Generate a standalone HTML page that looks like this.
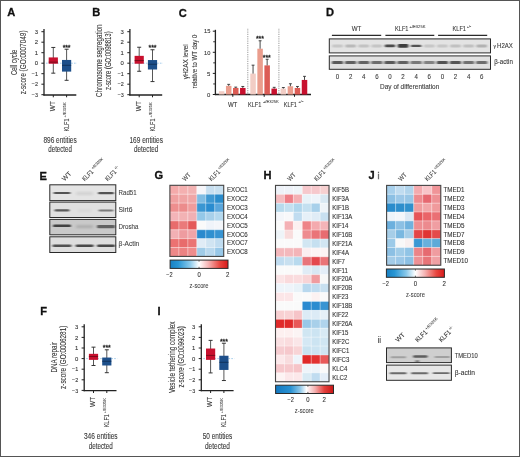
<!DOCTYPE html><html><head><meta charset="utf-8"><style>html,body{margin:0;padding:0;background:#fff;overflow:hidden;}svg{display:block;will-change:transform;}text{font-family:"Liberation Sans", sans-serif;}</style></head><body>
<svg width="520" height="457" viewBox="0 0 520 457">
<defs><linearGradient id="cb" x1="0" x2="1" y1="0" y2="0"><stop offset="0" stop-color="#1880c2"/><stop offset="0.14" stop-color="#2896d4"/><stop offset="0.34" stop-color="#88c8ea"/><stop offset="0.5" stop-color="#ffffff"/><stop offset="0.66" stop-color="#f5b4b4"/><stop offset="0.86" stop-color="#e8463f"/><stop offset="1" stop-color="#d81a1a"/></linearGradient><linearGradient id="cbh" x1="0" x2="1" y1="0" y2="0"><stop offset="0" stop-color="#1478c0"/><stop offset="0.26" stop-color="#2a92d2"/><stop offset="0.42" stop-color="#8cc6e8"/><stop offset="0.535" stop-color="#ffffff"/><stop offset="0.68" stop-color="#f4b0b0"/><stop offset="0.84" stop-color="#e4403c"/><stop offset="1" stop-color="#c81616"/></linearGradient><filter id="b1" x="-50%" y="-150%" width="200%" height="400%"><feGaussianBlur stdDeviation="1.0 0.6"/></filter><filter id="b2" x="-50%" y="-150%" width="200%" height="400%"><feGaussianBlur stdDeviation="1.4 0.9"/></filter></defs>
<rect x="0" y="0" width="520" height="457" fill="#fff"/>
<text x="7.20" y="16.40" font-size="11.1" font-weight="bold" fill="#111" stroke="#111" stroke-width="0.3">A</text>
<text x="92.30" y="16.20" font-size="11.1" font-weight="bold" fill="#111" stroke="#111" stroke-width="0.3">B</text>
<text x="178.80" y="16.90" font-size="11.1" font-weight="bold" fill="#111" stroke="#111" stroke-width="0.3">C</text>
<text x="326.00" y="16.40" font-size="11.1" font-weight="bold" fill="#111" stroke="#111" stroke-width="0.3">D</text>
<text x="39.60" y="179.70" font-size="11.1" font-weight="bold" fill="#111" stroke="#111" stroke-width="0.3">E</text>
<text x="154.50" y="179.00" font-size="11.1" font-weight="bold" fill="#111" stroke="#111" stroke-width="0.3">G</text>
<text x="263.60" y="179.00" font-size="11.1" font-weight="bold" fill="#111" stroke="#111" stroke-width="0.3">H</text>
<text x="368.50" y="179.00" font-size="11.1" font-weight="bold" fill="#111" stroke="#111" stroke-width="0.3">J</text>
<text x="377.60" y="179.00" font-size="9.0" text-anchor="start" fill="#666" stroke="#666" stroke-width="0.45" >i</text>
<text x="40.20" y="315.40" font-size="11.1" font-weight="bold" fill="#111" stroke="#111" stroke-width="0.3">F</text>
<text x="157.60" y="315.40" font-size="11.1" font-weight="bold" fill="#111" stroke="#111" stroke-width="0.3">I</text>
<text x="377.40" y="342.50" font-size="8.2" text-anchor="start" fill="#444" stroke="#444" stroke-width="0.1" >ii</text>
<line x1="44.00" y1="29.08" x2="44.00" y2="95.60" stroke="#222" stroke-width="1.3" />
<line x1="43.40" y1="95.00" x2="76.30" y2="95.00" stroke="#222" stroke-width="1.3" />
<line x1="41.40" y1="94.70" x2="44.00" y2="94.70" stroke="#222" stroke-width="1.0" />
<text x="38.00" y="96.90" font-size="6.2" text-anchor="end" fill="#333" stroke="#333" stroke-width="0.1" textLength="6.2" lengthAdjust="spacingAndGlyphs" >−3</text>
<line x1="41.40" y1="84.20" x2="44.00" y2="84.20" stroke="#222" stroke-width="1.0" />
<text x="38.00" y="86.40" font-size="6.2" text-anchor="end" fill="#333" stroke="#333" stroke-width="0.1" textLength="6.2" lengthAdjust="spacingAndGlyphs" >−2</text>
<line x1="41.40" y1="73.70" x2="44.00" y2="73.70" stroke="#222" stroke-width="1.0" />
<text x="38.00" y="75.90" font-size="6.2" text-anchor="end" fill="#333" stroke="#333" stroke-width="0.1" textLength="6.2" lengthAdjust="spacingAndGlyphs" >−1</text>
<line x1="41.40" y1="63.20" x2="44.00" y2="63.20" stroke="#222" stroke-width="1.0" />
<text x="38.00" y="65.40" font-size="6.2" text-anchor="end" fill="#333" stroke="#333" stroke-width="0.1" textLength="3.3" lengthAdjust="spacingAndGlyphs" >0</text>
<line x1="41.40" y1="52.70" x2="44.00" y2="52.70" stroke="#222" stroke-width="1.0" />
<text x="38.00" y="54.90" font-size="6.2" text-anchor="end" fill="#333" stroke="#333" stroke-width="0.1" textLength="3.3" lengthAdjust="spacingAndGlyphs" >1</text>
<line x1="41.40" y1="42.20" x2="44.00" y2="42.20" stroke="#222" stroke-width="1.0" />
<text x="38.00" y="44.40" font-size="6.2" text-anchor="end" fill="#333" stroke="#333" stroke-width="0.1" textLength="3.3" lengthAdjust="spacingAndGlyphs" >2</text>
<line x1="41.40" y1="31.70" x2="44.00" y2="31.70" stroke="#222" stroke-width="1.0" />
<text x="38.00" y="33.90" font-size="6.2" text-anchor="end" fill="#333" stroke="#333" stroke-width="0.1" textLength="3.3" lengthAdjust="spacingAndGlyphs" >3</text>
<line x1="46.00" y1="63.20" x2="77.00" y2="63.20" stroke="#8fc0e6" stroke-width="0.8" stroke-dasharray="1.6 1.2"/>
<line x1="53.30" y1="47.45" x2="53.30" y2="73.17" stroke="#444" stroke-width="0.9" />
<line x1="51.30" y1="47.45" x2="55.30" y2="47.45" stroke="#333" stroke-width="1.0" />
<line x1="51.30" y1="73.17" x2="55.30" y2="73.17" stroke="#333" stroke-width="1.0" />
<rect x="48.70" y="57.43" width="9.20" height="6.30" fill="#c8102e" stroke="none" stroke-width="0" />
<line x1="48.70" y1="62.15" x2="57.90" y2="62.15" stroke="#5a0814" stroke-width="0.7" />
<line x1="66.60" y1="49.23" x2="66.60" y2="80.31" stroke="#444" stroke-width="0.9" />
<line x1="64.60" y1="49.23" x2="68.60" y2="49.23" stroke="#333" stroke-width="1.0" />
<line x1="64.60" y1="80.31" x2="68.60" y2="80.31" stroke="#333" stroke-width="1.0" />
<rect x="62.00" y="59.95" width="9.20" height="11.66" fill="#1d4f8a" stroke="none" stroke-width="0" />
<line x1="62.00" y1="65.30" x2="71.20" y2="65.30" stroke="#0b2747" stroke-width="0.7" />
<text x="64.00" y="49.84" font-size="7.0" text-anchor="middle" fill="#222" stroke="#222" stroke-width="0.3" >*</text>
<text x="66.60" y="49.84" font-size="7.0" text-anchor="middle" fill="#222" stroke="#222" stroke-width="0.3" >*</text>
<text x="69.20" y="49.84" font-size="7.0" text-anchor="middle" fill="#222" stroke="#222" stroke-width="0.3" >*</text>
<line x1="53.30" y1="95.00" x2="53.30" y2="97.30" stroke="#222" stroke-width="1.0" />
<line x1="66.60" y1="95.00" x2="66.60" y2="97.30" stroke="#222" stroke-width="1.0" />
<text transform="translate(55.10,111.20) rotate(-90)" x="0" y="0" font-size="6.6" text-anchor="start" fill="#383838" stroke="#383838" stroke-width="0.1" textLength="10.1" lengthAdjust="spacingAndGlyphs" >WT</text>
<g transform="translate(68.80,131.60) rotate(-90)"><text x="0" y="0" font-size="6.6" fill="#383838" stroke="#383838" stroke-width="0.1" textLength="13.1" lengthAdjust="spacingAndGlyphs">KLF1</text><text x="14.10" y="-3.10" font-size="3.7" fill="#383838" stroke="#383838" stroke-width="0.06" textLength="15.0" lengthAdjust="spacingAndGlyphs">+/E325K</text></g>
<text transform="translate(16.60,62.30) rotate(-90)" x="0" y="0" font-size="8.2" text-anchor="middle" fill="#383838" stroke="#383838" stroke-width="0.1" textLength="25.4" lengthAdjust="spacingAndGlyphs" >Cell cycle</text>
<text transform="translate(25.80,62.40) rotate(-90)" x="0" y="0" font-size="8.2" text-anchor="middle" fill="#383838" stroke="#383838" stroke-width="0.1" textLength="63.9" lengthAdjust="spacingAndGlyphs" >z-score (GO:0007049)</text>
<text x="60.10" y="142.50" font-size="8.6" text-anchor="middle" fill="#383838" stroke="#383838" stroke-width="0.1" textLength="33.3" lengthAdjust="spacingAndGlyphs" >896 entities</text>
<text x="60.10" y="152.00" font-size="8.6" text-anchor="middle" fill="#383838" stroke="#383838" stroke-width="0.1" textLength="23.6" lengthAdjust="spacingAndGlyphs" >detected</text>
<line x1="129.90" y1="29.08" x2="129.90" y2="95.60" stroke="#222" stroke-width="1.3" />
<line x1="129.30" y1="95.00" x2="162.20" y2="95.00" stroke="#222" stroke-width="1.3" />
<line x1="127.30" y1="94.70" x2="129.90" y2="94.70" stroke="#222" stroke-width="1.0" />
<text x="123.90" y="96.90" font-size="6.2" text-anchor="end" fill="#333" stroke="#333" stroke-width="0.1" textLength="6.2" lengthAdjust="spacingAndGlyphs" >−3</text>
<line x1="127.30" y1="84.20" x2="129.90" y2="84.20" stroke="#222" stroke-width="1.0" />
<text x="123.90" y="86.40" font-size="6.2" text-anchor="end" fill="#333" stroke="#333" stroke-width="0.1" textLength="6.2" lengthAdjust="spacingAndGlyphs" >−2</text>
<line x1="127.30" y1="73.70" x2="129.90" y2="73.70" stroke="#222" stroke-width="1.0" />
<text x="123.90" y="75.90" font-size="6.2" text-anchor="end" fill="#333" stroke="#333" stroke-width="0.1" textLength="6.2" lengthAdjust="spacingAndGlyphs" >−1</text>
<line x1="127.30" y1="63.20" x2="129.90" y2="63.20" stroke="#222" stroke-width="1.0" />
<text x="123.90" y="65.40" font-size="6.2" text-anchor="end" fill="#333" stroke="#333" stroke-width="0.1" textLength="3.3" lengthAdjust="spacingAndGlyphs" >0</text>
<line x1="127.30" y1="52.70" x2="129.90" y2="52.70" stroke="#222" stroke-width="1.0" />
<text x="123.90" y="54.90" font-size="6.2" text-anchor="end" fill="#333" stroke="#333" stroke-width="0.1" textLength="3.3" lengthAdjust="spacingAndGlyphs" >1</text>
<line x1="127.30" y1="42.20" x2="129.90" y2="42.20" stroke="#222" stroke-width="1.0" />
<text x="123.90" y="44.40" font-size="6.2" text-anchor="end" fill="#333" stroke="#333" stroke-width="0.1" textLength="3.3" lengthAdjust="spacingAndGlyphs" >2</text>
<line x1="127.30" y1="31.70" x2="129.90" y2="31.70" stroke="#222" stroke-width="1.0" />
<text x="123.90" y="33.90" font-size="6.2" text-anchor="end" fill="#333" stroke="#333" stroke-width="0.1" textLength="3.3" lengthAdjust="spacingAndGlyphs" >3</text>
<line x1="131.90" y1="63.20" x2="162.90" y2="63.20" stroke="#8fc0e6" stroke-width="0.8" stroke-dasharray="1.6 1.2"/>
<line x1="139.20" y1="47.24" x2="139.20" y2="71.28" stroke="#444" stroke-width="0.9" />
<line x1="137.20" y1="47.24" x2="141.20" y2="47.24" stroke="#333" stroke-width="1.0" />
<line x1="137.20" y1="71.28" x2="141.20" y2="71.28" stroke="#333" stroke-width="1.0" />
<rect x="134.60" y="55.85" width="9.20" height="7.88" fill="#c8102e" stroke="none" stroke-width="0" />
<line x1="134.60" y1="60.58" x2="143.80" y2="60.58" stroke="#5a0814" stroke-width="0.7" />
<line x1="152.50" y1="49.76" x2="152.50" y2="81.58" stroke="#444" stroke-width="0.9" />
<line x1="150.50" y1="49.76" x2="154.50" y2="49.76" stroke="#333" stroke-width="1.0" />
<line x1="150.50" y1="81.58" x2="154.50" y2="81.58" stroke="#333" stroke-width="1.0" />
<rect x="147.90" y="60.05" width="9.20" height="9.45" fill="#1d4f8a" stroke="none" stroke-width="0" />
<line x1="147.90" y1="64.25" x2="157.10" y2="64.25" stroke="#0b2747" stroke-width="0.7" />
<text x="149.90" y="50.36" font-size="7.0" text-anchor="middle" fill="#222" stroke="#222" stroke-width="0.3" >*</text>
<text x="152.50" y="50.36" font-size="7.0" text-anchor="middle" fill="#222" stroke="#222" stroke-width="0.3" >*</text>
<text x="155.10" y="50.36" font-size="7.0" text-anchor="middle" fill="#222" stroke="#222" stroke-width="0.3" >*</text>
<line x1="139.20" y1="95.00" x2="139.20" y2="97.30" stroke="#222" stroke-width="1.0" />
<line x1="152.50" y1="95.00" x2="152.50" y2="97.30" stroke="#222" stroke-width="1.0" />
<text transform="translate(141.00,111.20) rotate(-90)" x="0" y="0" font-size="6.6" text-anchor="start" fill="#383838" stroke="#383838" stroke-width="0.1" textLength="10.1" lengthAdjust="spacingAndGlyphs" >WT</text>
<g transform="translate(154.70,131.60) rotate(-90)"><text x="0" y="0" font-size="6.6" fill="#383838" stroke="#383838" stroke-width="0.1" textLength="13.1" lengthAdjust="spacingAndGlyphs">KLF1</text><text x="14.10" y="-3.10" font-size="3.7" fill="#383838" stroke="#383838" stroke-width="0.06" textLength="15.0" lengthAdjust="spacingAndGlyphs">+/E325K</text></g>
<text transform="translate(101.50,60.70) rotate(-90)" x="0" y="0" font-size="8.2" text-anchor="middle" fill="#383838" stroke="#383838" stroke-width="0.1" textLength="72.6" lengthAdjust="spacingAndGlyphs" >Chromosome segregation</text>
<text transform="translate(110.60,60.70) rotate(-90)" x="0" y="0" font-size="8.2" text-anchor="middle" fill="#383838" stroke="#383838" stroke-width="0.1" textLength="58.6" lengthAdjust="spacingAndGlyphs" >z-score (GO:0098813)</text>
<text x="146.20" y="142.50" font-size="8.6" text-anchor="middle" fill="#383838" stroke="#383838" stroke-width="0.1" textLength="33.5" lengthAdjust="spacingAndGlyphs" >169 entities</text>
<text x="146.20" y="152.00" font-size="8.6" text-anchor="middle" fill="#383838" stroke="#383838" stroke-width="0.1" textLength="24.3" lengthAdjust="spacingAndGlyphs" >detected</text>
<line x1="84.20" y1="324.15" x2="84.20" y2="391.30" stroke="#222" stroke-width="1.3" />
<line x1="83.60" y1="390.70" x2="116.50" y2="390.70" stroke="#222" stroke-width="1.3" />
<line x1="81.60" y1="390.40" x2="84.20" y2="390.40" stroke="#222" stroke-width="1.0" />
<text x="78.20" y="392.60" font-size="6.2" text-anchor="end" fill="#333" stroke="#333" stroke-width="0.1" textLength="6.2" lengthAdjust="spacingAndGlyphs" >−3</text>
<line x1="81.60" y1="379.80" x2="84.20" y2="379.80" stroke="#222" stroke-width="1.0" />
<text x="78.20" y="382.00" font-size="6.2" text-anchor="end" fill="#333" stroke="#333" stroke-width="0.1" textLength="6.2" lengthAdjust="spacingAndGlyphs" >−2</text>
<line x1="81.60" y1="369.20" x2="84.20" y2="369.20" stroke="#222" stroke-width="1.0" />
<text x="78.20" y="371.40" font-size="6.2" text-anchor="end" fill="#333" stroke="#333" stroke-width="0.1" textLength="6.2" lengthAdjust="spacingAndGlyphs" >−1</text>
<line x1="81.60" y1="358.60" x2="84.20" y2="358.60" stroke="#222" stroke-width="1.0" />
<text x="78.20" y="360.80" font-size="6.2" text-anchor="end" fill="#333" stroke="#333" stroke-width="0.1" textLength="3.3" lengthAdjust="spacingAndGlyphs" >0</text>
<line x1="81.60" y1="348.00" x2="84.20" y2="348.00" stroke="#222" stroke-width="1.0" />
<text x="78.20" y="350.20" font-size="6.2" text-anchor="end" fill="#333" stroke="#333" stroke-width="0.1" textLength="3.3" lengthAdjust="spacingAndGlyphs" >1</text>
<line x1="81.60" y1="337.40" x2="84.20" y2="337.40" stroke="#222" stroke-width="1.0" />
<text x="78.20" y="339.60" font-size="6.2" text-anchor="end" fill="#333" stroke="#333" stroke-width="0.1" textLength="3.3" lengthAdjust="spacingAndGlyphs" >2</text>
<line x1="81.60" y1="326.80" x2="84.20" y2="326.80" stroke="#222" stroke-width="1.0" />
<text x="78.20" y="329.00" font-size="6.2" text-anchor="end" fill="#333" stroke="#333" stroke-width="0.1" textLength="3.3" lengthAdjust="spacingAndGlyphs" >3</text>
<line x1="86.20" y1="358.60" x2="117.20" y2="358.60" stroke="#8fc0e6" stroke-width="0.8" stroke-dasharray="1.6 1.2"/>
<line x1="93.50" y1="347.15" x2="93.50" y2="365.49" stroke="#444" stroke-width="0.9" />
<line x1="91.50" y1="347.15" x2="95.50" y2="347.15" stroke="#333" stroke-width="1.0" />
<line x1="91.50" y1="365.49" x2="95.50" y2="365.49" stroke="#333" stroke-width="1.0" />
<rect x="88.90" y="353.83" width="9.20" height="6.04" fill="#c8102e" stroke="none" stroke-width="0" />
<line x1="88.90" y1="356.48" x2="98.10" y2="356.48" stroke="#5a0814" stroke-width="0.7" />
<line x1="106.80" y1="349.80" x2="106.80" y2="372.70" stroke="#444" stroke-width="0.9" />
<line x1="104.80" y1="349.80" x2="108.80" y2="349.80" stroke="#333" stroke-width="1.0" />
<line x1="104.80" y1="372.70" x2="108.80" y2="372.70" stroke="#333" stroke-width="1.0" />
<rect x="102.20" y="357.54" width="9.20" height="7.95" fill="#1d4f8a" stroke="none" stroke-width="0" />
<line x1="102.20" y1="361.25" x2="111.40" y2="361.25" stroke="#0b2747" stroke-width="0.7" />
<text x="104.20" y="350.40" font-size="7.0" text-anchor="middle" fill="#222" stroke="#222" stroke-width="0.3" >*</text>
<text x="106.80" y="350.40" font-size="7.0" text-anchor="middle" fill="#222" stroke="#222" stroke-width="0.3" >*</text>
<text x="109.40" y="350.40" font-size="7.0" text-anchor="middle" fill="#222" stroke="#222" stroke-width="0.3" >*</text>
<line x1="93.50" y1="390.70" x2="93.50" y2="393.00" stroke="#222" stroke-width="1.0" />
<line x1="106.80" y1="390.70" x2="106.80" y2="393.00" stroke="#222" stroke-width="1.0" />
<text transform="translate(95.30,406.90) rotate(-90)" x="0" y="0" font-size="6.6" text-anchor="start" fill="#383838" stroke="#383838" stroke-width="0.1" textLength="10.1" lengthAdjust="spacingAndGlyphs" >WT</text>
<g transform="translate(109.00,427.30) rotate(-90)"><text x="0" y="0" font-size="6.6" fill="#383838" stroke="#383838" stroke-width="0.1" textLength="13.1" lengthAdjust="spacingAndGlyphs">KLF1</text><text x="14.10" y="-3.10" font-size="3.7" fill="#383838" stroke="#383838" stroke-width="0.06" textLength="15.0" lengthAdjust="spacingAndGlyphs">+/E325K</text></g>
<text transform="translate(57.30,357.30) rotate(-90)" x="0" y="0" font-size="8.2" text-anchor="middle" fill="#383838" stroke="#383838" stroke-width="0.1" textLength="30.3" lengthAdjust="spacingAndGlyphs" >DNA repair</text>
<text transform="translate(66.30,357.30) rotate(-90)" x="0" y="0" font-size="8.2" text-anchor="middle" fill="#383838" stroke="#383838" stroke-width="0.1" textLength="63.2" lengthAdjust="spacingAndGlyphs" >z-score (GO:0006281)</text>
<text x="100.80" y="439.40" font-size="8.6" text-anchor="middle" fill="#383838" stroke="#383838" stroke-width="0.1" textLength="33.7" lengthAdjust="spacingAndGlyphs" >346 entities</text>
<text x="100.80" y="448.90" font-size="8.6" text-anchor="middle" fill="#383838" stroke="#383838" stroke-width="0.1" textLength="24.2" lengthAdjust="spacingAndGlyphs" >detected</text>
<line x1="201.30" y1="324.15" x2="201.30" y2="391.30" stroke="#222" stroke-width="1.3" />
<line x1="200.70" y1="390.70" x2="233.60" y2="390.70" stroke="#222" stroke-width="1.3" />
<line x1="198.70" y1="390.40" x2="201.30" y2="390.40" stroke="#222" stroke-width="1.0" />
<text x="195.30" y="392.60" font-size="6.2" text-anchor="end" fill="#333" stroke="#333" stroke-width="0.1" textLength="6.2" lengthAdjust="spacingAndGlyphs" >−3</text>
<line x1="198.70" y1="379.80" x2="201.30" y2="379.80" stroke="#222" stroke-width="1.0" />
<text x="195.30" y="382.00" font-size="6.2" text-anchor="end" fill="#333" stroke="#333" stroke-width="0.1" textLength="6.2" lengthAdjust="spacingAndGlyphs" >−2</text>
<line x1="198.70" y1="369.20" x2="201.30" y2="369.20" stroke="#222" stroke-width="1.0" />
<text x="195.30" y="371.40" font-size="6.2" text-anchor="end" fill="#333" stroke="#333" stroke-width="0.1" textLength="6.2" lengthAdjust="spacingAndGlyphs" >−1</text>
<line x1="198.70" y1="358.60" x2="201.30" y2="358.60" stroke="#222" stroke-width="1.0" />
<text x="195.30" y="360.80" font-size="6.2" text-anchor="end" fill="#333" stroke="#333" stroke-width="0.1" textLength="3.3" lengthAdjust="spacingAndGlyphs" >0</text>
<line x1="198.70" y1="348.00" x2="201.30" y2="348.00" stroke="#222" stroke-width="1.0" />
<text x="195.30" y="350.20" font-size="6.2" text-anchor="end" fill="#333" stroke="#333" stroke-width="0.1" textLength="3.3" lengthAdjust="spacingAndGlyphs" >1</text>
<line x1="198.70" y1="337.40" x2="201.30" y2="337.40" stroke="#222" stroke-width="1.0" />
<text x="195.30" y="339.60" font-size="6.2" text-anchor="end" fill="#333" stroke="#333" stroke-width="0.1" textLength="3.3" lengthAdjust="spacingAndGlyphs" >2</text>
<line x1="198.70" y1="326.80" x2="201.30" y2="326.80" stroke="#222" stroke-width="1.0" />
<text x="195.30" y="329.00" font-size="6.2" text-anchor="end" fill="#333" stroke="#333" stroke-width="0.1" textLength="3.3" lengthAdjust="spacingAndGlyphs" >3</text>
<line x1="203.30" y1="358.60" x2="234.30" y2="358.60" stroke="#8fc0e6" stroke-width="0.8" stroke-dasharray="1.6 1.2"/>
<line x1="210.60" y1="340.37" x2="210.60" y2="372.91" stroke="#444" stroke-width="0.9" />
<line x1="208.60" y1="340.37" x2="212.60" y2="340.37" stroke="#333" stroke-width="1.0" />
<line x1="208.60" y1="372.91" x2="212.60" y2="372.91" stroke="#333" stroke-width="1.0" />
<rect x="206.00" y="348.53" width="9.20" height="11.34" fill="#c8102e" stroke="none" stroke-width="0" />
<line x1="206.00" y1="355.42" x2="215.20" y2="355.42" stroke="#5a0814" stroke-width="0.7" />
<line x1="223.90" y1="343.23" x2="223.90" y2="380.54" stroke="#444" stroke-width="0.9" />
<line x1="221.90" y1="343.23" x2="225.90" y2="343.23" stroke="#333" stroke-width="1.0" />
<line x1="221.90" y1="380.54" x2="225.90" y2="380.54" stroke="#333" stroke-width="1.0" />
<rect x="219.30" y="355.74" width="9.20" height="14.20" fill="#1d4f8a" stroke="none" stroke-width="0" />
<line x1="219.30" y1="362.31" x2="228.50" y2="362.31" stroke="#0b2747" stroke-width="0.7" />
<text x="221.30" y="343.83" font-size="7.0" text-anchor="middle" fill="#222" stroke="#222" stroke-width="0.3" >*</text>
<text x="223.90" y="343.83" font-size="7.0" text-anchor="middle" fill="#222" stroke="#222" stroke-width="0.3" >*</text>
<text x="226.50" y="343.83" font-size="7.0" text-anchor="middle" fill="#222" stroke="#222" stroke-width="0.3" >*</text>
<line x1="210.60" y1="390.70" x2="210.60" y2="393.00" stroke="#222" stroke-width="1.0" />
<line x1="223.90" y1="390.70" x2="223.90" y2="393.00" stroke="#222" stroke-width="1.0" />
<text transform="translate(212.40,406.90) rotate(-90)" x="0" y="0" font-size="6.6" text-anchor="start" fill="#383838" stroke="#383838" stroke-width="0.1" textLength="10.1" lengthAdjust="spacingAndGlyphs" >WT</text>
<g transform="translate(226.10,427.30) rotate(-90)"><text x="0" y="0" font-size="6.6" fill="#383838" stroke="#383838" stroke-width="0.1" textLength="13.1" lengthAdjust="spacingAndGlyphs">KLF1</text><text x="14.10" y="-3.10" font-size="3.7" fill="#383838" stroke="#383838" stroke-width="0.06" textLength="15.0" lengthAdjust="spacingAndGlyphs">+/E325K</text></g>
<text transform="translate(175.40,357.30) rotate(-90)" x="0" y="0" font-size="8.2" text-anchor="middle" fill="#383838" stroke="#383838" stroke-width="0.1" textLength="71.6" lengthAdjust="spacingAndGlyphs" >Vesicle tethering complex</text>
<text transform="translate(183.90,356.90) rotate(-90)" x="0" y="0" font-size="8.2" text-anchor="middle" fill="#383838" stroke="#383838" stroke-width="0.1" textLength="61.3" lengthAdjust="spacingAndGlyphs" >z-score (GO:0099023)</text>
<text x="217.50" y="439.40" font-size="8.6" text-anchor="middle" fill="#383838" stroke="#383838" stroke-width="0.1" textLength="29.6" lengthAdjust="spacingAndGlyphs" >50 entities</text>
<text x="217.50" y="448.90" font-size="8.6" text-anchor="middle" fill="#383838" stroke="#383838" stroke-width="0.1" textLength="25.0" lengthAdjust="spacingAndGlyphs" >detected</text>
<line x1="215.40" y1="29.80" x2="215.40" y2="95.10" stroke="#222" stroke-width="1.3" />
<line x1="214.80" y1="94.50" x2="311.00" y2="94.50" stroke="#222" stroke-width="1.3" />
<line x1="213.20" y1="83.95" x2="215.40" y2="83.95" stroke="#222" stroke-width="0.9" />
<line x1="213.20" y1="62.85" x2="215.40" y2="62.85" stroke="#222" stroke-width="0.9" />
<line x1="213.20" y1="41.75" x2="215.40" y2="41.75" stroke="#222" stroke-width="0.9" />
<line x1="212.80" y1="94.50" x2="215.40" y2="94.50" stroke="#222" stroke-width="1.0" />
<text x="210.40" y="96.70" font-size="6.2" text-anchor="end" fill="#383838" stroke="#383838" stroke-width="0.1" textLength="3.3" lengthAdjust="spacingAndGlyphs" >0</text>
<line x1="212.80" y1="73.40" x2="215.40" y2="73.40" stroke="#222" stroke-width="1.0" />
<text x="210.40" y="75.60" font-size="6.2" text-anchor="end" fill="#383838" stroke="#383838" stroke-width="0.1" textLength="3.3" lengthAdjust="spacingAndGlyphs" >5</text>
<line x1="212.80" y1="52.30" x2="215.40" y2="52.30" stroke="#222" stroke-width="1.0" />
<text x="210.40" y="54.50" font-size="6.2" text-anchor="end" fill="#383838" stroke="#383838" stroke-width="0.1" textLength="6.4" lengthAdjust="spacingAndGlyphs" >10</text>
<line x1="212.80" y1="31.20" x2="215.40" y2="31.20" stroke="#222" stroke-width="1.0" />
<text x="210.40" y="33.40" font-size="6.2" text-anchor="end" fill="#383838" stroke="#383838" stroke-width="0.1" textLength="6.4" lengthAdjust="spacingAndGlyphs" >15</text>
<line x1="247.80" y1="28.80" x2="247.80" y2="94.50" stroke="#666" stroke-width="0.8" stroke-dasharray="0.8 1.0"/>
<line x1="278.90" y1="28.80" x2="278.90" y2="94.50" stroke="#666" stroke-width="0.8" stroke-dasharray="0.8 1.0"/>
<rect x="218.90" y="91.21" width="5.50" height="3.29" fill="#f2cdc5" stroke="none" stroke-width="0" />
<rect x="225.95" y="85.85" width="5.50" height="8.65" fill="#ea9d8d" stroke="none" stroke-width="0" />
<line x1="228.70" y1="85.85" x2="228.70" y2="84.37" stroke="#333" stroke-width="0.9" />
<line x1="227.25" y1="84.37" x2="230.15" y2="84.37" stroke="#333" stroke-width="0.9" />
<rect x="233.00" y="87.96" width="5.50" height="6.54" fill="#dc5c55" stroke="none" stroke-width="0" />
<line x1="235.75" y1="87.96" x2="235.75" y2="87.12" stroke="#333" stroke-width="0.9" />
<line x1="234.30" y1="87.12" x2="237.20" y2="87.12" stroke="#333" stroke-width="0.9" />
<rect x="240.05" y="87.96" width="5.50" height="6.54" fill="#c8102e" stroke="none" stroke-width="0" />
<line x1="242.80" y1="87.96" x2="242.80" y2="86.48" stroke="#333" stroke-width="0.9" />
<line x1="241.35" y1="86.48" x2="244.25" y2="86.48" stroke="#333" stroke-width="0.9" />
<line x1="232.80" y1="94.50" x2="232.80" y2="96.80" stroke="#222" stroke-width="1.0" />
<rect x="250.30" y="73.61" width="5.50" height="20.89" fill="#f2cdc5" stroke="none" stroke-width="0" />
<line x1="253.05" y1="73.61" x2="253.05" y2="65.17" stroke="#333" stroke-width="0.9" />
<line x1="251.60" y1="65.17" x2="254.50" y2="65.17" stroke="#333" stroke-width="0.9" />
<rect x="257.35" y="48.71" width="5.50" height="45.79" fill="#ea9d8d" stroke="none" stroke-width="0" />
<line x1="260.10" y1="48.71" x2="260.10" y2="40.78" stroke="#333" stroke-width="0.9" />
<line x1="258.65" y1="40.78" x2="261.55" y2="40.78" stroke="#333" stroke-width="0.9" />
<rect x="264.40" y="65.38" width="5.50" height="29.12" fill="#dc5c55" stroke="none" stroke-width="0" />
<line x1="267.15" y1="65.38" x2="267.15" y2="59.26" stroke="#333" stroke-width="0.9" />
<line x1="265.70" y1="59.26" x2="268.60" y2="59.26" stroke="#333" stroke-width="0.9" />
<rect x="271.45" y="88.59" width="5.50" height="5.91" fill="#c8102e" stroke="none" stroke-width="0" />
<line x1="274.20" y1="88.59" x2="274.20" y2="87.33" stroke="#333" stroke-width="0.9" />
<line x1="272.75" y1="87.33" x2="275.65" y2="87.33" stroke="#333" stroke-width="0.9" />
<line x1="264.20" y1="94.50" x2="264.20" y2="96.80" stroke="#222" stroke-width="1.0" />
<rect x="280.60" y="88.59" width="5.50" height="5.91" fill="#f2cdc5" stroke="none" stroke-width="0" />
<line x1="283.35" y1="88.59" x2="283.35" y2="87.54" stroke="#333" stroke-width="0.9" />
<line x1="281.90" y1="87.54" x2="284.80" y2="87.54" stroke="#333" stroke-width="0.9" />
<rect x="287.65" y="86.27" width="5.50" height="8.23" fill="#ea9d8d" stroke="none" stroke-width="0" />
<line x1="290.40" y1="86.27" x2="290.40" y2="83.74" stroke="#333" stroke-width="0.9" />
<line x1="288.95" y1="83.74" x2="291.85" y2="83.74" stroke="#333" stroke-width="0.9" />
<rect x="294.70" y="87.96" width="5.50" height="6.54" fill="#dc5c55" stroke="none" stroke-width="0" />
<line x1="297.45" y1="87.96" x2="297.45" y2="86.48" stroke="#333" stroke-width="0.9" />
<line x1="296.00" y1="86.48" x2="298.90" y2="86.48" stroke="#333" stroke-width="0.9" />
<rect x="301.75" y="79.94" width="5.50" height="14.56" fill="#c8102e" stroke="none" stroke-width="0" />
<line x1="304.50" y1="79.94" x2="304.50" y2="76.35" stroke="#333" stroke-width="0.9" />
<line x1="303.05" y1="76.35" x2="305.95" y2="76.35" stroke="#333" stroke-width="0.9" />
<line x1="294.50" y1="94.50" x2="294.50" y2="96.80" stroke="#222" stroke-width="1.0" />
<text x="257.30" y="40.60" font-size="7.0" text-anchor="middle" fill="#222" stroke="#222" stroke-width="0.3" >*</text>
<text x="259.90" y="40.60" font-size="7.0" text-anchor="middle" fill="#222" stroke="#222" stroke-width="0.3" >*</text>
<text x="262.50" y="40.60" font-size="7.0" text-anchor="middle" fill="#222" stroke="#222" stroke-width="0.3" >*</text>
<text x="264.20" y="59.50" font-size="7.0" text-anchor="middle" fill="#222" stroke="#222" stroke-width="0.3" >*</text>
<text x="266.80" y="59.50" font-size="7.0" text-anchor="middle" fill="#222" stroke="#222" stroke-width="0.3" >*</text>
<text x="269.40" y="59.50" font-size="7.0" text-anchor="middle" fill="#222" stroke="#222" stroke-width="0.3" >*</text>
<text x="232.60" y="106.70" font-size="6.9" text-anchor="middle" fill="#383838" stroke="#383838" stroke-width="0.1" textLength="9.4" lengthAdjust="spacingAndGlyphs" >WT</text>
<g transform="translate(247.90,106.70)"><text x="0" y="0" font-size="6.9" fill="#383838" stroke="#383838" stroke-width="0.1" textLength="13.4" lengthAdjust="spacingAndGlyphs">KLF1</text><text x="15.00" y="-4.20" font-size="3.8" fill="#383838" stroke="#383838" stroke-width="0.06" textLength="16.0" lengthAdjust="spacingAndGlyphs">+/E325K</text></g>
<g transform="translate(283.80,106.70)"><text x="0" y="0" font-size="6.9" fill="#383838" stroke="#383838" stroke-width="0.1" textLength="13.1" lengthAdjust="spacingAndGlyphs">KLF1</text><text x="14.70" y="-4.20" font-size="3.8" fill="#383838" stroke="#383838" stroke-width="0.06" textLength="4.9" lengthAdjust="spacingAndGlyphs">+/−</text></g>
<text transform="translate(188.10,61.80) rotate(-90)" x="0" y="0" font-size="6.5" text-anchor="middle" fill="#383838" stroke="#383838" stroke-width="0.1" textLength="34.8" lengthAdjust="spacingAndGlyphs" >γH2AX level</text>
<text transform="translate(197.40,61.50) rotate(-90)" x="0" y="0" font-size="6.5" text-anchor="middle" fill="#383838" stroke="#383838" stroke-width="0.1" textLength="53.8" lengthAdjust="spacingAndGlyphs" >relative to WT day 0</text>
<text x="356.50" y="31.40" font-size="6.8" text-anchor="middle" fill="#383838" stroke="#383838" stroke-width="0.1" textLength="9.6" lengthAdjust="spacingAndGlyphs" >WT</text>
<g transform="translate(395.00,31.20)"><text x="0" y="0" font-size="6.6" fill="#383838" stroke="#383838" stroke-width="0.1" textLength="13.5" lengthAdjust="spacingAndGlyphs">KLF1</text><text x="14.60" y="-3.60" font-size="3.8" fill="#383838" stroke="#383838" stroke-width="0.06" textLength="15.8" lengthAdjust="spacingAndGlyphs">+/E325K</text></g>
<g transform="translate(452.50,31.40)"><text x="0" y="0" font-size="6.6" fill="#383838" stroke="#383838" stroke-width="0.1" textLength="13.5" lengthAdjust="spacingAndGlyphs">KLF1</text><text x="14.60" y="-3.60" font-size="3.8" fill="#383838" stroke="#383838" stroke-width="0.06" textLength="4.2" lengthAdjust="spacingAndGlyphs">+/−</text></g>
<line x1="331.90" y1="35.30" x2="381.20" y2="35.30" stroke="#2a2a2a" stroke-width="1.2" />
<line x1="385.40" y1="35.30" x2="434.30" y2="35.30" stroke="#2a2a2a" stroke-width="1.2" />
<line x1="438.10" y1="35.30" x2="487.20" y2="35.30" stroke="#2a2a2a" stroke-width="1.2" />
<rect x="329.30" y="38.90" width="161.20" height="14.00" fill="#e3e3e3" stroke="#2a2a2a" stroke-width="1.0" />
<rect x="329.30" y="55.90" width="161.20" height="13.40" fill="#e0e0e0" stroke="#2a2a2a" stroke-width="1.0" />
<rect x="332.25" y="44.40" width="10.50" height="3.00" rx="1.20" fill="#1a1a1a" opacity="0.136" filter="url(#b1)"/>
<rect x="345.36" y="44.40" width="10.50" height="3.00" rx="1.20" fill="#1a1a1a" opacity="0.204" filter="url(#b1)"/>
<rect x="358.47" y="44.40" width="10.50" height="3.00" rx="1.20" fill="#1a1a1a" opacity="0.162" filter="url(#b1)"/>
<rect x="371.58" y="44.40" width="10.50" height="3.00" rx="1.20" fill="#1a1a1a" opacity="0.145" filter="url(#b1)"/>
<rect x="384.69" y="44.60" width="10.50" height="2.60" rx="1.20" fill="#1a1a1a" opacity="0.765" filter="url(#b1)"/>
<rect x="397.80" y="44.10" width="10.50" height="3.60" rx="1.20" fill="#1a1a1a" opacity="0.833" filter="url(#b1)"/>
<rect x="410.91" y="44.70" width="10.50" height="2.40" rx="1.20" fill="#1a1a1a" opacity="0.722" filter="url(#b1)"/>
<rect x="424.02" y="44.40" width="10.50" height="3.00" rx="1.20" fill="#1a1a1a" opacity="0.136" filter="url(#b1)"/>
<rect x="437.13" y="44.40" width="10.50" height="3.00" rx="1.20" fill="#1a1a1a" opacity="0.136" filter="url(#b1)"/>
<rect x="450.24" y="44.40" width="10.50" height="3.00" rx="1.20" fill="#1a1a1a" opacity="0.170" filter="url(#b1)"/>
<rect x="463.35" y="44.40" width="10.50" height="3.00" rx="1.20" fill="#1a1a1a" opacity="0.170" filter="url(#b1)"/>
<rect x="476.46" y="44.40" width="10.50" height="3.00" rx="1.20" fill="#1a1a1a" opacity="0.238" filter="url(#b1)"/>
<rect x="331.90" y="61.10" width="11.20" height="3.00" rx="1.20" fill="#1a1a1a" opacity="0.686" filter="url(#b1)"/>
<rect x="345.01" y="61.10" width="11.20" height="3.00" rx="1.20" fill="#1a1a1a" opacity="0.646" filter="url(#b1)"/>
<rect x="358.12" y="61.10" width="11.20" height="3.00" rx="1.20" fill="#1a1a1a" opacity="0.630" filter="url(#b1)"/>
<rect x="371.23" y="61.10" width="11.20" height="3.00" rx="1.20" fill="#1a1a1a" opacity="0.581" filter="url(#b1)"/>
<rect x="384.34" y="61.10" width="11.20" height="3.00" rx="1.20" fill="#1a1a1a" opacity="0.686" filter="url(#b1)"/>
<rect x="397.45" y="61.10" width="11.20" height="3.00" rx="1.20" fill="#1a1a1a" opacity="0.646" filter="url(#b1)"/>
<rect x="410.56" y="61.10" width="11.20" height="3.00" rx="1.20" fill="#1a1a1a" opacity="0.525" filter="url(#b1)"/>
<rect x="423.67" y="61.10" width="11.20" height="3.00" rx="1.20" fill="#1a1a1a" opacity="0.484" filter="url(#b1)"/>
<rect x="436.78" y="61.10" width="11.20" height="3.00" rx="1.20" fill="#1a1a1a" opacity="0.727" filter="url(#b1)"/>
<rect x="449.89" y="61.10" width="11.20" height="3.00" rx="1.20" fill="#1a1a1a" opacity="0.711" filter="url(#b1)"/>
<rect x="463.00" y="61.10" width="11.20" height="3.00" rx="1.20" fill="#1a1a1a" opacity="0.565" filter="url(#b1)"/>
<rect x="476.11" y="61.10" width="11.20" height="3.00" rx="1.20" fill="#1a1a1a" opacity="0.581" filter="url(#b1)"/>
<text x="337.50" y="78.60" font-size="7.2" text-anchor="middle" fill="#383838" stroke="#383838" stroke-width="0.1" textLength="3.4" lengthAdjust="spacingAndGlyphs" >0</text>
<text x="350.61" y="78.60" font-size="7.2" text-anchor="middle" fill="#383838" stroke="#383838" stroke-width="0.1" textLength="3.4" lengthAdjust="spacingAndGlyphs" >2</text>
<text x="363.72" y="78.60" font-size="7.2" text-anchor="middle" fill="#383838" stroke="#383838" stroke-width="0.1" textLength="3.4" lengthAdjust="spacingAndGlyphs" >4</text>
<text x="376.83" y="78.60" font-size="7.2" text-anchor="middle" fill="#383838" stroke="#383838" stroke-width="0.1" textLength="3.4" lengthAdjust="spacingAndGlyphs" >6</text>
<text x="389.94" y="78.60" font-size="7.2" text-anchor="middle" fill="#383838" stroke="#383838" stroke-width="0.1" textLength="3.4" lengthAdjust="spacingAndGlyphs" >0</text>
<text x="403.05" y="78.60" font-size="7.2" text-anchor="middle" fill="#383838" stroke="#383838" stroke-width="0.1" textLength="3.4" lengthAdjust="spacingAndGlyphs" >2</text>
<text x="416.16" y="78.60" font-size="7.2" text-anchor="middle" fill="#383838" stroke="#383838" stroke-width="0.1" textLength="3.4" lengthAdjust="spacingAndGlyphs" >4</text>
<text x="429.27" y="78.60" font-size="7.2" text-anchor="middle" fill="#383838" stroke="#383838" stroke-width="0.1" textLength="3.4" lengthAdjust="spacingAndGlyphs" >6</text>
<text x="442.38" y="78.60" font-size="7.2" text-anchor="middle" fill="#383838" stroke="#383838" stroke-width="0.1" textLength="3.4" lengthAdjust="spacingAndGlyphs" >0</text>
<text x="455.49" y="78.60" font-size="7.2" text-anchor="middle" fill="#383838" stroke="#383838" stroke-width="0.1" textLength="3.4" lengthAdjust="spacingAndGlyphs" >2</text>
<text x="468.60" y="78.60" font-size="7.2" text-anchor="middle" fill="#383838" stroke="#383838" stroke-width="0.1" textLength="3.4" lengthAdjust="spacingAndGlyphs" >4</text>
<text x="481.71" y="78.60" font-size="7.2" text-anchor="middle" fill="#383838" stroke="#383838" stroke-width="0.1" textLength="3.4" lengthAdjust="spacingAndGlyphs" >6</text>
<text x="409.70" y="88.80" font-size="7.6" text-anchor="middle" fill="#383838" stroke="#383838" stroke-width="0.1" textLength="59.2" lengthAdjust="spacingAndGlyphs" >Day of differentiation</text>
<text x="493.40" y="48.00" font-size="4.6" text-anchor="start" fill="#383838" stroke="#383838" stroke-width="0.1" textLength="2.4" lengthAdjust="spacingAndGlyphs" >γ</text>
<text x="497.10" y="48.20" font-size="6.8" text-anchor="start" fill="#383838" stroke="#383838" stroke-width="0.1" textLength="15.8" lengthAdjust="spacingAndGlyphs" >H2AX</text>
<text x="494.20" y="64.20" font-size="6.8" text-anchor="start" fill="#383838" stroke="#383838" stroke-width="0.1" textLength="18.7" lengthAdjust="spacingAndGlyphs" >β-actin</text>
<text transform="translate(64.60,181.40) rotate(-45)" x="0" y="0" font-size="6.6" text-anchor="start" fill="#383838" stroke="#383838" stroke-width="0.1" textLength="10.4" lengthAdjust="spacingAndGlyphs" >WT</text>
<g transform="translate(84.80,181.40) rotate(-45)"><text x="0" y="0" font-size="6.6" fill="#383838" stroke="#383838" stroke-width="0.1" textLength="12.8" lengthAdjust="spacingAndGlyphs">KLF1</text><text x="13.80" y="-2.60" font-size="3.8" fill="#383838" stroke="#383838" stroke-width="0.06" textLength="15.0" lengthAdjust="spacingAndGlyphs">+/E325K</text></g>
<g transform="translate(107.80,181.40) rotate(-45)"><text x="0" y="0" font-size="6.6" fill="#383838" stroke="#383838" stroke-width="0.1" textLength="12.8" lengthAdjust="spacingAndGlyphs">KLF1</text><text x="13.80" y="-2.60" font-size="3.8" fill="#383838" stroke="#383838" stroke-width="0.06" textLength="4.2" lengthAdjust="spacingAndGlyphs">+/−</text></g>
<rect x="49.80" y="184.80" width="66.00" height="15.80" fill="#e4e4e4" stroke="#2a2a2a" stroke-width="1.0" />
<text x="118.60" y="194.70" font-size="6.9" text-anchor="start" fill="#444" stroke="#444" stroke-width="0.1" textLength="18.1" lengthAdjust="spacingAndGlyphs" >Rad51</text>
<rect x="49.80" y="202.10" width="66.00" height="15.40" fill="#e0e0e0" stroke="#2a2a2a" stroke-width="1.0" />
<text x="118.60" y="212.20" font-size="6.9" text-anchor="start" fill="#444" stroke="#444" stroke-width="0.1" textLength="13.8" lengthAdjust="spacingAndGlyphs" >Sirt6</text>
<rect x="49.80" y="219.40" width="66.00" height="15.40" fill="#c9c9c9" stroke="#2a2a2a" stroke-width="1.0" />
<text x="118.60" y="229.10" font-size="6.9" text-anchor="start" fill="#444" stroke="#444" stroke-width="0.1" textLength="19.9" lengthAdjust="spacingAndGlyphs" >Drosha</text>
<rect x="49.80" y="236.80" width="66.00" height="15.70" fill="#dedede" stroke="#2a2a2a" stroke-width="1.0" />
<text x="118.60" y="246.20" font-size="6.9" text-anchor="start" fill="#444" stroke="#444" stroke-width="0.1" textLength="20.7" lengthAdjust="spacingAndGlyphs" >β-Actin</text>
<rect x="53.50" y="191.90" width="17.00" height="2.20" rx="1.10" fill="#1a1a1a" opacity="0.722" filter="url(#b1)"/>
<rect x="76.10" y="192.60" width="17.00" height="1.80" rx="0.90" fill="#1a1a1a" opacity="0.128" filter="url(#b2)"/>
<rect x="98.00" y="192.05" width="16.00" height="2.30" rx="1.15" fill="#1a1a1a" opacity="0.722" filter="url(#b1)"/>
<rect x="54.50" y="209.30" width="15.00" height="2.20" rx="1.10" fill="#1a1a1a" opacity="0.680" filter="url(#b1)"/>
<rect x="77.60" y="209.80" width="14.00" height="1.60" rx="0.80" fill="#1a1a1a" opacity="0.068" filter="url(#b2)"/>
<rect x="98.50" y="209.60" width="15.00" height="2.00" rx="1.00" fill="#1a1a1a" opacity="0.510" filter="url(#b1)"/>
<rect x="53.00" y="224.50" width="18.00" height="2.60" rx="1.20" fill="#1a1a1a" opacity="0.782" filter="url(#b1)"/>
<rect x="76.10" y="225.30" width="17.00" height="2.60" rx="1.20" fill="#1a1a1a" opacity="0.170" filter="url(#b2)"/>
<rect x="97.00" y="225.00" width="18.00" height="3.20" rx="1.20" fill="#1a1a1a" opacity="0.595" filter="url(#b1)"/>
<rect x="52.50" y="244.50" width="19.00" height="2.40" rx="1.20" fill="#1a1a1a" opacity="0.722" filter="url(#b1)"/>
<rect x="75.60" y="244.40" width="18.00" height="2.60" rx="1.20" fill="#1a1a1a" opacity="0.765" filter="url(#b1)"/>
<rect x="97.00" y="244.40" width="18.00" height="2.60" rx="1.20" fill="#1a1a1a" opacity="0.765" filter="url(#b1)"/>
<rect x="169.90" y="185.30" width="9.02" height="8.94" fill="#f4aaaa" stroke="none" stroke-width="0" />
<rect x="178.87" y="185.30" width="9.02" height="8.94" fill="#f4b0b0" stroke="none" stroke-width="0" />
<rect x="187.84" y="185.30" width="9.02" height="8.94" fill="#f2b2b2" stroke="none" stroke-width="0" />
<rect x="196.81" y="185.30" width="9.02" height="8.94" fill="#f6f6fa" stroke="none" stroke-width="0" />
<rect x="205.78" y="185.30" width="9.02" height="8.94" fill="#c8dff0" stroke="none" stroke-width="0" />
<rect x="214.75" y="185.30" width="9.02" height="8.94" fill="#c8e0f0" stroke="none" stroke-width="0" />
<rect x="169.90" y="194.19" width="9.02" height="8.94" fill="#f0a0a0" stroke="none" stroke-width="0" />
<rect x="178.87" y="194.19" width="9.02" height="8.94" fill="#f0a4a4" stroke="none" stroke-width="0" />
<rect x="187.84" y="194.19" width="9.02" height="8.94" fill="#f0a6a6" stroke="none" stroke-width="0" />
<rect x="196.81" y="194.19" width="9.02" height="8.94" fill="#80bce2" stroke="none" stroke-width="0" />
<rect x="205.78" y="194.19" width="9.02" height="8.94" fill="#3f98d2" stroke="none" stroke-width="0" />
<rect x="214.75" y="194.19" width="9.02" height="8.94" fill="#2a8ccc" stroke="none" stroke-width="0" />
<rect x="169.90" y="203.08" width="9.02" height="8.94" fill="#ee8e8e" stroke="none" stroke-width="0" />
<rect x="178.87" y="203.08" width="9.02" height="8.94" fill="#ec8c8c" stroke="none" stroke-width="0" />
<rect x="187.84" y="203.08" width="9.02" height="8.94" fill="#f09c9c" stroke="none" stroke-width="0" />
<rect x="196.81" y="203.08" width="9.02" height="8.94" fill="#3a96d2" stroke="none" stroke-width="0" />
<rect x="205.78" y="203.08" width="9.02" height="8.94" fill="#2a8cd0" stroke="none" stroke-width="0" />
<rect x="214.75" y="203.08" width="9.02" height="8.94" fill="#5aa6dc" stroke="none" stroke-width="0" />
<rect x="169.90" y="211.97" width="9.02" height="8.94" fill="#f4b4b8" stroke="none" stroke-width="0" />
<rect x="178.87" y="211.97" width="9.02" height="8.94" fill="#f2b2b4" stroke="none" stroke-width="0" />
<rect x="187.84" y="211.97" width="9.02" height="8.94" fill="#f0b0b4" stroke="none" stroke-width="0" />
<rect x="196.81" y="211.97" width="9.02" height="8.94" fill="#94c8e8" stroke="none" stroke-width="0" />
<rect x="205.78" y="211.97" width="9.02" height="8.94" fill="#a8d0ea" stroke="none" stroke-width="0" />
<rect x="214.75" y="211.97" width="9.02" height="8.94" fill="#b4d8ee" stroke="none" stroke-width="0" />
<rect x="169.90" y="220.86" width="9.02" height="8.94" fill="#e86c6c" stroke="none" stroke-width="0" />
<rect x="178.87" y="220.86" width="9.02" height="8.94" fill="#ea7a7a" stroke="none" stroke-width="0" />
<rect x="187.84" y="220.86" width="9.02" height="8.94" fill="#e45a5a" stroke="none" stroke-width="0" />
<rect x="196.81" y="220.86" width="9.02" height="8.94" fill="#fafafa" stroke="none" stroke-width="0" />
<rect x="205.78" y="220.86" width="9.02" height="8.94" fill="#f0f4fa" stroke="none" stroke-width="0" />
<rect x="214.75" y="220.86" width="9.02" height="8.94" fill="#f4f6fa" stroke="none" stroke-width="0" />
<rect x="169.90" y="229.75" width="9.02" height="8.94" fill="#f2b0b4" stroke="none" stroke-width="0" />
<rect x="178.87" y="229.75" width="9.02" height="8.94" fill="#ee9ca0" stroke="none" stroke-width="0" />
<rect x="187.84" y="229.75" width="9.02" height="8.94" fill="#f0a4a8" stroke="none" stroke-width="0" />
<rect x="196.81" y="229.75" width="9.02" height="8.94" fill="#2a8ace" stroke="none" stroke-width="0" />
<rect x="205.78" y="229.75" width="9.02" height="8.94" fill="#3090d0" stroke="none" stroke-width="0" />
<rect x="214.75" y="229.75" width="9.02" height="8.94" fill="#3894d2" stroke="none" stroke-width="0" />
<rect x="169.90" y="238.64" width="9.02" height="8.94" fill="#ec7272" stroke="none" stroke-width="0" />
<rect x="178.87" y="238.64" width="9.02" height="8.94" fill="#e86c6c" stroke="none" stroke-width="0" />
<rect x="187.84" y="238.64" width="9.02" height="8.94" fill="#ea7474" stroke="none" stroke-width="0" />
<rect x="196.81" y="238.64" width="9.02" height="8.94" fill="#e0ecf6" stroke="none" stroke-width="0" />
<rect x="205.78" y="238.64" width="9.02" height="8.94" fill="#d0e4f2" stroke="none" stroke-width="0" />
<rect x="214.75" y="238.64" width="9.02" height="8.94" fill="#c0dcf0" stroke="none" stroke-width="0" />
<rect x="169.90" y="247.53" width="9.02" height="8.94" fill="#ee8888" stroke="none" stroke-width="0" />
<rect x="178.87" y="247.53" width="9.02" height="8.94" fill="#ec8282" stroke="none" stroke-width="0" />
<rect x="187.84" y="247.53" width="9.02" height="8.94" fill="#ee8c8c" stroke="none" stroke-width="0" />
<rect x="196.81" y="247.53" width="9.02" height="8.94" fill="#a0cce8" stroke="none" stroke-width="0" />
<rect x="205.78" y="247.53" width="9.02" height="8.94" fill="#b8d8ee" stroke="none" stroke-width="0" />
<rect x="214.75" y="247.53" width="9.02" height="8.94" fill="#98c8e8" stroke="none" stroke-width="0" />
<line x1="178.87" y1="185.30" x2="178.87" y2="256.42" stroke="rgba(255,255,255,0.5)" stroke-width="0.75" />
<line x1="187.84" y1="185.30" x2="187.84" y2="256.42" stroke="rgba(255,255,255,0.5)" stroke-width="0.75" />
<line x1="196.81" y1="185.30" x2="196.81" y2="256.42" stroke="rgba(255,255,255,0.5)" stroke-width="0.75" />
<line x1="205.78" y1="185.30" x2="205.78" y2="256.42" stroke="rgba(255,255,255,0.5)" stroke-width="0.75" />
<line x1="214.75" y1="185.30" x2="214.75" y2="256.42" stroke="rgba(255,255,255,0.5)" stroke-width="0.75" />
<line x1="169.90" y1="194.19" x2="223.72" y2="194.19" stroke="rgba(255,255,255,0.5)" stroke-width="0.75" />
<line x1="169.90" y1="203.08" x2="223.72" y2="203.08" stroke="rgba(255,255,255,0.5)" stroke-width="0.75" />
<line x1="169.90" y1="211.97" x2="223.72" y2="211.97" stroke="rgba(255,255,255,0.5)" stroke-width="0.75" />
<line x1="169.90" y1="220.86" x2="223.72" y2="220.86" stroke="rgba(255,255,255,0.5)" stroke-width="0.75" />
<line x1="169.90" y1="229.75" x2="223.72" y2="229.75" stroke="rgba(255,255,255,0.5)" stroke-width="0.75" />
<line x1="169.90" y1="238.64" x2="223.72" y2="238.64" stroke="rgba(255,255,255,0.5)" stroke-width="0.75" />
<line x1="169.90" y1="247.53" x2="223.72" y2="247.53" stroke="rgba(255,255,255,0.5)" stroke-width="0.75" />
<rect x="169.90" y="185.30" width="53.82" height="71.12" fill="none" stroke="#444" stroke-width="1.1" />
<text x="227.00" y="192.09" font-size="6.5" text-anchor="start" fill="#333" stroke="#333" stroke-width="0.1" textLength="20.71" lengthAdjust="spacingAndGlyphs" >EXOC1</text>
<text x="227.00" y="200.98" font-size="6.5" text-anchor="start" fill="#333" stroke="#333" stroke-width="0.1" textLength="20.71" lengthAdjust="spacingAndGlyphs" >EXOC2</text>
<text x="227.00" y="209.88" font-size="6.5" text-anchor="start" fill="#333" stroke="#333" stroke-width="0.1" textLength="20.71" lengthAdjust="spacingAndGlyphs" >EXOC3</text>
<text x="227.00" y="218.77" font-size="6.5" text-anchor="start" fill="#333" stroke="#333" stroke-width="0.1" textLength="20.71" lengthAdjust="spacingAndGlyphs" >EXOC4</text>
<text x="227.00" y="227.66" font-size="6.5" text-anchor="start" fill="#333" stroke="#333" stroke-width="0.1" textLength="20.71" lengthAdjust="spacingAndGlyphs" >EXOC5</text>
<text x="227.00" y="236.54" font-size="6.5" text-anchor="start" fill="#333" stroke="#333" stroke-width="0.1" textLength="20.71" lengthAdjust="spacingAndGlyphs" >EXOC6</text>
<text x="227.00" y="245.44" font-size="6.5" text-anchor="start" fill="#333" stroke="#333" stroke-width="0.1" textLength="20.71" lengthAdjust="spacingAndGlyphs" >EXOC7</text>
<text x="227.00" y="254.33" font-size="6.5" text-anchor="start" fill="#333" stroke="#333" stroke-width="0.1" textLength="20.71" lengthAdjust="spacingAndGlyphs" >EXOC8</text>
<rect x="170.1" y="260.1" width="57.9" height="8.3" fill="url(#cb)" stroke="#2a2a2a" stroke-width="1"/>
<line x1="199.05" y1="260.30" x2="199.05" y2="261.70" stroke="#222" stroke-width="0.7" />
<line x1="199.05" y1="266.80" x2="199.05" y2="268.20" stroke="#222" stroke-width="0.7" />
<text x="169.50" y="276.60" font-size="6.6" text-anchor="middle" fill="#333" stroke="#333" stroke-width="0.1" textLength="6.4" lengthAdjust="spacingAndGlyphs" >−2</text>
<text x="199.05" y="276.60" font-size="6.6" text-anchor="middle" fill="#333" stroke="#333" stroke-width="0.1" textLength="3.3" lengthAdjust="spacingAndGlyphs" >0</text>
<text x="227.80" y="276.60" font-size="6.6" text-anchor="middle" fill="#333" stroke="#333" stroke-width="0.1" textLength="3.4" lengthAdjust="spacingAndGlyphs" >2</text>
<text x="199.05" y="288.40" font-size="7.8" text-anchor="middle" fill="#444" stroke="#444" stroke-width="0.1" textLength="18.9" lengthAdjust="spacingAndGlyphs" >z-score</text>
<text transform="translate(184.90,181.40) rotate(-45)" x="0" y="0" font-size="6.6" text-anchor="start" fill="#383838" stroke="#383838" stroke-width="0.1" textLength="8.8" lengthAdjust="spacingAndGlyphs" >WT</text>
<g transform="translate(211.60,181.40) rotate(-45)"><text x="0" y="0" font-size="6.6" fill="#383838" stroke="#383838" stroke-width="0.1" textLength="12.5" lengthAdjust="spacingAndGlyphs">KLF1</text><text x="13.50" y="-2.60" font-size="3.8" fill="#383838" stroke="#383838" stroke-width="0.06" textLength="14.5" lengthAdjust="spacingAndGlyphs">+/E325K</text></g>
<rect x="275.50" y="185.40" width="8.97" height="8.98" fill="#eef2f8" stroke="none" stroke-width="0" />
<rect x="284.42" y="185.40" width="8.97" height="8.98" fill="#eef2f8" stroke="none" stroke-width="0" />
<rect x="293.34" y="185.40" width="8.97" height="8.98" fill="#eef4f8" stroke="none" stroke-width="0" />
<rect x="302.26" y="185.40" width="8.97" height="8.98" fill="#f6c8cc" stroke="none" stroke-width="0" />
<rect x="311.18" y="185.40" width="8.97" height="8.98" fill="#f6c8cc" stroke="none" stroke-width="0" />
<rect x="320.10" y="185.40" width="8.97" height="8.98" fill="#f6d0d0" stroke="none" stroke-width="0" />
<rect x="275.50" y="194.33" width="8.97" height="8.98" fill="#f4bcc0" stroke="none" stroke-width="0" />
<rect x="284.42" y="194.33" width="8.97" height="8.98" fill="#ee8088" stroke="none" stroke-width="0" />
<rect x="293.34" y="194.33" width="8.97" height="8.98" fill="#f4b0b4" stroke="none" stroke-width="0" />
<rect x="302.26" y="194.33" width="8.97" height="8.98" fill="#e8f2f8" stroke="none" stroke-width="0" />
<rect x="311.18" y="194.33" width="8.97" height="8.98" fill="#eef4fa" stroke="none" stroke-width="0" />
<rect x="320.10" y="194.33" width="8.97" height="8.98" fill="#d8e8f2" stroke="none" stroke-width="0" />
<rect x="275.50" y="203.25" width="8.97" height="8.98" fill="#b8daec" stroke="none" stroke-width="0" />
<rect x="284.42" y="203.25" width="8.97" height="8.98" fill="#c4e0f0" stroke="none" stroke-width="0" />
<rect x="293.34" y="203.25" width="8.97" height="8.98" fill="#b0d6ec" stroke="none" stroke-width="0" />
<rect x="302.26" y="203.25" width="8.97" height="8.98" fill="#c4e0f0" stroke="none" stroke-width="0" />
<rect x="311.18" y="203.25" width="8.97" height="8.98" fill="#a8d0ea" stroke="none" stroke-width="0" />
<rect x="320.10" y="203.25" width="8.97" height="8.98" fill="#eef4f8" stroke="none" stroke-width="0" />
<rect x="275.50" y="212.18" width="8.97" height="8.98" fill="#f4f6fa" stroke="none" stroke-width="0" />
<rect x="284.42" y="212.18" width="8.97" height="8.98" fill="#f8f8fa" stroke="none" stroke-width="0" />
<rect x="293.34" y="212.18" width="8.97" height="8.98" fill="#c0dcf0" stroke="none" stroke-width="0" />
<rect x="302.26" y="212.18" width="8.97" height="8.98" fill="#e6f0f8" stroke="none" stroke-width="0" />
<rect x="311.18" y="212.18" width="8.97" height="8.98" fill="#e0ecf6" stroke="none" stroke-width="0" />
<rect x="320.10" y="212.18" width="8.97" height="8.98" fill="#c8e0f0" stroke="none" stroke-width="0" />
<rect x="275.50" y="221.10" width="8.97" height="8.98" fill="#fafafa" stroke="none" stroke-width="0" />
<rect x="284.42" y="221.10" width="8.97" height="8.98" fill="#f4b0b4" stroke="none" stroke-width="0" />
<rect x="293.34" y="221.10" width="8.97" height="8.98" fill="#fcf0f0" stroke="none" stroke-width="0" />
<rect x="302.26" y="221.10" width="8.97" height="8.98" fill="#ee8488" stroke="none" stroke-width="0" />
<rect x="311.18" y="221.10" width="8.97" height="8.98" fill="#f4aaae" stroke="none" stroke-width="0" />
<rect x="320.10" y="221.10" width="8.97" height="8.98" fill="#f4b4b8" stroke="none" stroke-width="0" />
<rect x="275.50" y="230.03" width="8.97" height="8.98" fill="#eef4f8" stroke="none" stroke-width="0" />
<rect x="284.42" y="230.03" width="8.97" height="8.98" fill="#f8dcdc" stroke="none" stroke-width="0" />
<rect x="293.34" y="230.03" width="8.97" height="8.98" fill="#fafafa" stroke="none" stroke-width="0" />
<rect x="302.26" y="230.03" width="8.97" height="8.98" fill="#ee8c90" stroke="none" stroke-width="0" />
<rect x="311.18" y="230.03" width="8.97" height="8.98" fill="#ea7478" stroke="none" stroke-width="0" />
<rect x="320.10" y="230.03" width="8.97" height="8.98" fill="#e86c70" stroke="none" stroke-width="0" />
<rect x="275.50" y="238.95" width="8.97" height="8.98" fill="#fafafa" stroke="none" stroke-width="0" />
<rect x="284.42" y="238.95" width="8.97" height="8.98" fill="#fafafa" stroke="none" stroke-width="0" />
<rect x="293.34" y="238.95" width="8.97" height="8.98" fill="#fafafa" stroke="none" stroke-width="0" />
<rect x="302.26" y="238.95" width="8.97" height="8.98" fill="#d2e6f2" stroke="none" stroke-width="0" />
<rect x="311.18" y="238.95" width="8.97" height="8.98" fill="#c6e0f0" stroke="none" stroke-width="0" />
<rect x="320.10" y="238.95" width="8.97" height="8.98" fill="#d2e6f2" stroke="none" stroke-width="0" />
<rect x="275.50" y="247.88" width="8.97" height="8.98" fill="#f4b8bc" stroke="none" stroke-width="0" />
<rect x="284.42" y="247.88" width="8.97" height="8.98" fill="#f4b8bc" stroke="none" stroke-width="0" />
<rect x="293.34" y="247.88" width="8.97" height="8.98" fill="#f4b4b8" stroke="none" stroke-width="0" />
<rect x="302.26" y="247.88" width="8.97" height="8.98" fill="#fbeef0" stroke="none" stroke-width="0" />
<rect x="311.18" y="247.88" width="8.97" height="8.98" fill="#fcf4f4" stroke="none" stroke-width="0" />
<rect x="320.10" y="247.88" width="8.97" height="8.98" fill="#fcf4f4" stroke="none" stroke-width="0" />
<rect x="275.50" y="256.80" width="8.97" height="8.98" fill="#c0dcf0" stroke="none" stroke-width="0" />
<rect x="284.42" y="256.80" width="8.97" height="8.98" fill="#c8e0f0" stroke="none" stroke-width="0" />
<rect x="293.34" y="256.80" width="8.97" height="8.98" fill="#b8daee" stroke="none" stroke-width="0" />
<rect x="302.26" y="256.80" width="8.97" height="8.98" fill="#e8747a" stroke="none" stroke-width="0" />
<rect x="311.18" y="256.80" width="8.97" height="8.98" fill="#e4484e" stroke="none" stroke-width="0" />
<rect x="320.10" y="256.80" width="8.97" height="8.98" fill="#ea7478" stroke="none" stroke-width="0" />
<rect x="275.50" y="265.73" width="8.97" height="8.98" fill="#fafafa" stroke="none" stroke-width="0" />
<rect x="284.42" y="265.73" width="8.97" height="8.98" fill="#fafafa" stroke="none" stroke-width="0" />
<rect x="293.34" y="265.73" width="8.97" height="8.98" fill="#fafafa" stroke="none" stroke-width="0" />
<rect x="302.26" y="265.73" width="8.97" height="8.98" fill="#e0ecf6" stroke="none" stroke-width="0" />
<rect x="311.18" y="265.73" width="8.97" height="8.98" fill="#d8e8f4" stroke="none" stroke-width="0" />
<rect x="320.10" y="265.73" width="8.97" height="8.98" fill="#e4eef8" stroke="none" stroke-width="0" />
<rect x="275.50" y="274.65" width="8.97" height="8.98" fill="#fbe4e6" stroke="none" stroke-width="0" />
<rect x="284.42" y="274.65" width="8.97" height="8.98" fill="#fadadc" stroke="none" stroke-width="0" />
<rect x="293.34" y="274.65" width="8.97" height="8.98" fill="#fadcde" stroke="none" stroke-width="0" />
<rect x="302.26" y="274.65" width="8.97" height="8.98" fill="#f8d4d6" stroke="none" stroke-width="0" />
<rect x="311.18" y="274.65" width="8.97" height="8.98" fill="#f09ca0" stroke="none" stroke-width="0" />
<rect x="320.10" y="274.65" width="8.97" height="8.98" fill="#f8f8f8" stroke="none" stroke-width="0" />
<rect x="275.50" y="283.58" width="8.97" height="8.98" fill="#eef4fa" stroke="none" stroke-width="0" />
<rect x="284.42" y="283.58" width="8.97" height="8.98" fill="#eef4fa" stroke="none" stroke-width="0" />
<rect x="293.34" y="283.58" width="8.97" height="8.98" fill="#e8f2f8" stroke="none" stroke-width="0" />
<rect x="302.26" y="283.58" width="8.97" height="8.98" fill="#b8d8ee" stroke="none" stroke-width="0" />
<rect x="311.18" y="283.58" width="8.97" height="8.98" fill="#c0dcf0" stroke="none" stroke-width="0" />
<rect x="320.10" y="283.58" width="8.97" height="8.98" fill="#c8e0f0" stroke="none" stroke-width="0" />
<rect x="275.50" y="292.50" width="8.97" height="8.98" fill="#fce6e8" stroke="none" stroke-width="0" />
<rect x="284.42" y="292.50" width="8.97" height="8.98" fill="#fce6e8" stroke="none" stroke-width="0" />
<rect x="293.34" y="292.50" width="8.97" height="8.98" fill="#fafafa" stroke="none" stroke-width="0" />
<rect x="302.26" y="292.50" width="8.97" height="8.98" fill="#fafafa" stroke="none" stroke-width="0" />
<rect x="311.18" y="292.50" width="8.97" height="8.98" fill="#fcf2f2" stroke="none" stroke-width="0" />
<rect x="320.10" y="292.50" width="8.97" height="8.98" fill="#fafafa" stroke="none" stroke-width="0" />
<rect x="275.50" y="301.43" width="8.97" height="8.98" fill="#fafafa" stroke="none" stroke-width="0" />
<rect x="284.42" y="301.43" width="8.97" height="8.98" fill="#fafafa" stroke="none" stroke-width="0" />
<rect x="293.34" y="301.43" width="8.97" height="8.98" fill="#fafafa" stroke="none" stroke-width="0" />
<rect x="302.26" y="301.43" width="8.97" height="8.98" fill="#2a8ad0" stroke="none" stroke-width="0" />
<rect x="311.18" y="301.43" width="8.97" height="8.98" fill="#2c8cd0" stroke="none" stroke-width="0" />
<rect x="320.10" y="301.43" width="8.97" height="8.98" fill="#3894d2" stroke="none" stroke-width="0" />
<rect x="275.50" y="310.35" width="8.97" height="8.98" fill="#f8d0d2" stroke="none" stroke-width="0" />
<rect x="284.42" y="310.35" width="8.97" height="8.98" fill="#f8d2d4" stroke="none" stroke-width="0" />
<rect x="293.34" y="310.35" width="8.97" height="8.98" fill="#f6c4c8" stroke="none" stroke-width="0" />
<rect x="302.26" y="310.35" width="8.97" height="8.98" fill="#dcebf6" stroke="none" stroke-width="0" />
<rect x="311.18" y="310.35" width="8.97" height="8.98" fill="#dcebf6" stroke="none" stroke-width="0" />
<rect x="320.10" y="310.35" width="8.97" height="8.98" fill="#e6f0f8" stroke="none" stroke-width="0" />
<rect x="275.50" y="319.27" width="8.97" height="8.98" fill="#e02a2a" stroke="none" stroke-width="0" />
<rect x="284.42" y="319.27" width="8.97" height="8.98" fill="#e02a2a" stroke="none" stroke-width="0" />
<rect x="293.34" y="319.27" width="8.97" height="8.98" fill="#e85858" stroke="none" stroke-width="0" />
<rect x="302.26" y="319.27" width="8.97" height="8.98" fill="#98c8e8" stroke="none" stroke-width="0" />
<rect x="311.18" y="319.27" width="8.97" height="8.98" fill="#a8d0ea" stroke="none" stroke-width="0" />
<rect x="320.10" y="319.27" width="8.97" height="8.98" fill="#b0d4ec" stroke="none" stroke-width="0" />
<rect x="275.50" y="328.20" width="8.97" height="8.98" fill="#fdf0f0" stroke="none" stroke-width="0" />
<rect x="284.42" y="328.20" width="8.97" height="8.98" fill="#fdf0f0" stroke="none" stroke-width="0" />
<rect x="293.34" y="328.20" width="8.97" height="8.98" fill="#fbf4f4" stroke="none" stroke-width="0" />
<rect x="302.26" y="328.20" width="8.97" height="8.98" fill="#d0e6f2" stroke="none" stroke-width="0" />
<rect x="311.18" y="328.20" width="8.97" height="8.98" fill="#cce4f2" stroke="none" stroke-width="0" />
<rect x="320.10" y="328.20" width="8.97" height="8.98" fill="#d8eaf4" stroke="none" stroke-width="0" />
<rect x="275.50" y="337.12" width="8.97" height="8.98" fill="#fae0e2" stroke="none" stroke-width="0" />
<rect x="284.42" y="337.12" width="8.97" height="8.98" fill="#fadcde" stroke="none" stroke-width="0" />
<rect x="293.34" y="337.12" width="8.97" height="8.98" fill="#fae6e8" stroke="none" stroke-width="0" />
<rect x="302.26" y="337.12" width="8.97" height="8.98" fill="#d4e8f4" stroke="none" stroke-width="0" />
<rect x="311.18" y="337.12" width="8.97" height="8.98" fill="#cce4f2" stroke="none" stroke-width="0" />
<rect x="320.10" y="337.12" width="8.97" height="8.98" fill="#d0e6f2" stroke="none" stroke-width="0" />
<rect x="275.50" y="346.05" width="8.97" height="8.98" fill="#f6ccd0" stroke="none" stroke-width="0" />
<rect x="284.42" y="346.05" width="8.97" height="8.98" fill="#f6c8cc" stroke="none" stroke-width="0" />
<rect x="293.34" y="346.05" width="8.97" height="8.98" fill="#f8d4d6" stroke="none" stroke-width="0" />
<rect x="302.26" y="346.05" width="8.97" height="8.98" fill="#c8e2f0" stroke="none" stroke-width="0" />
<rect x="311.18" y="346.05" width="8.97" height="8.98" fill="#cce4f2" stroke="none" stroke-width="0" />
<rect x="320.10" y="346.05" width="8.97" height="8.98" fill="#d0e6f2" stroke="none" stroke-width="0" />
<rect x="275.50" y="354.98" width="8.97" height="8.98" fill="#fce8ea" stroke="none" stroke-width="0" />
<rect x="284.42" y="354.98" width="8.97" height="8.98" fill="#f8dcde" stroke="none" stroke-width="0" />
<rect x="293.34" y="354.98" width="8.97" height="8.98" fill="#eef4fa" stroke="none" stroke-width="0" />
<rect x="302.26" y="354.98" width="8.97" height="8.98" fill="#e02828" stroke="none" stroke-width="0" />
<rect x="311.18" y="354.98" width="8.97" height="8.98" fill="#e23232" stroke="none" stroke-width="0" />
<rect x="320.10" y="354.98" width="8.97" height="8.98" fill="#e85a5a" stroke="none" stroke-width="0" />
<rect x="275.50" y="363.90" width="8.97" height="8.98" fill="#f6c8cc" stroke="none" stroke-width="0" />
<rect x="284.42" y="363.90" width="8.97" height="8.98" fill="#f6c8cc" stroke="none" stroke-width="0" />
<rect x="293.34" y="363.90" width="8.97" height="8.98" fill="#f6c4c8" stroke="none" stroke-width="0" />
<rect x="302.26" y="363.90" width="8.97" height="8.98" fill="#eef4fa" stroke="none" stroke-width="0" />
<rect x="311.18" y="363.90" width="8.97" height="8.98" fill="#eef4fa" stroke="none" stroke-width="0" />
<rect x="320.10" y="363.90" width="8.97" height="8.98" fill="#fafafa" stroke="none" stroke-width="0" />
<rect x="275.50" y="372.83" width="8.97" height="8.98" fill="#fdf4f4" stroke="none" stroke-width="0" />
<rect x="284.42" y="372.83" width="8.97" height="8.98" fill="#fce8ea" stroke="none" stroke-width="0" />
<rect x="293.34" y="372.83" width="8.97" height="8.98" fill="#fce8ea" stroke="none" stroke-width="0" />
<rect x="302.26" y="372.83" width="8.97" height="8.98" fill="#d8eaf4" stroke="none" stroke-width="0" />
<rect x="311.18" y="372.83" width="8.97" height="8.98" fill="#c0dcf0" stroke="none" stroke-width="0" />
<rect x="320.10" y="372.83" width="8.97" height="8.98" fill="#e4eef8" stroke="none" stroke-width="0" />
<line x1="284.42" y1="185.40" x2="284.42" y2="381.75" stroke="rgba(255,255,255,0.5)" stroke-width="0.75" />
<line x1="293.34" y1="185.40" x2="293.34" y2="381.75" stroke="rgba(255,255,255,0.5)" stroke-width="0.75" />
<line x1="302.26" y1="185.40" x2="302.26" y2="381.75" stroke="rgba(255,255,255,0.5)" stroke-width="0.75" />
<line x1="311.18" y1="185.40" x2="311.18" y2="381.75" stroke="rgba(255,255,255,0.5)" stroke-width="0.75" />
<line x1="320.10" y1="185.40" x2="320.10" y2="381.75" stroke="rgba(255,255,255,0.5)" stroke-width="0.75" />
<line x1="275.50" y1="194.33" x2="329.02" y2="194.33" stroke="rgba(255,255,255,0.5)" stroke-width="0.75" />
<line x1="275.50" y1="203.25" x2="329.02" y2="203.25" stroke="rgba(255,255,255,0.5)" stroke-width="0.75" />
<line x1="275.50" y1="212.18" x2="329.02" y2="212.18" stroke="rgba(255,255,255,0.5)" stroke-width="0.75" />
<line x1="275.50" y1="221.10" x2="329.02" y2="221.10" stroke="rgba(255,255,255,0.5)" stroke-width="0.75" />
<line x1="275.50" y1="230.03" x2="329.02" y2="230.03" stroke="rgba(255,255,255,0.5)" stroke-width="0.75" />
<line x1="275.50" y1="238.95" x2="329.02" y2="238.95" stroke="rgba(255,255,255,0.5)" stroke-width="0.75" />
<line x1="275.50" y1="247.88" x2="329.02" y2="247.88" stroke="rgba(255,255,255,0.5)" stroke-width="0.75" />
<line x1="275.50" y1="256.80" x2="329.02" y2="256.80" stroke="rgba(255,255,255,0.5)" stroke-width="0.75" />
<line x1="275.50" y1="265.73" x2="329.02" y2="265.73" stroke="rgba(255,255,255,0.5)" stroke-width="0.75" />
<line x1="275.50" y1="274.65" x2="329.02" y2="274.65" stroke="rgba(255,255,255,0.5)" stroke-width="0.75" />
<line x1="275.50" y1="283.58" x2="329.02" y2="283.58" stroke="rgba(255,255,255,0.5)" stroke-width="0.75" />
<line x1="275.50" y1="292.50" x2="329.02" y2="292.50" stroke="rgba(255,255,255,0.5)" stroke-width="0.75" />
<line x1="275.50" y1="301.43" x2="329.02" y2="301.43" stroke="rgba(255,255,255,0.5)" stroke-width="0.75" />
<line x1="275.50" y1="310.35" x2="329.02" y2="310.35" stroke="rgba(255,255,255,0.5)" stroke-width="0.75" />
<line x1="275.50" y1="319.27" x2="329.02" y2="319.27" stroke="rgba(255,255,255,0.5)" stroke-width="0.75" />
<line x1="275.50" y1="328.20" x2="329.02" y2="328.20" stroke="rgba(255,255,255,0.5)" stroke-width="0.75" />
<line x1="275.50" y1="337.12" x2="329.02" y2="337.12" stroke="rgba(255,255,255,0.5)" stroke-width="0.75" />
<line x1="275.50" y1="346.05" x2="329.02" y2="346.05" stroke="rgba(255,255,255,0.5)" stroke-width="0.75" />
<line x1="275.50" y1="354.98" x2="329.02" y2="354.98" stroke="rgba(255,255,255,0.5)" stroke-width="0.75" />
<line x1="275.50" y1="363.90" x2="329.02" y2="363.90" stroke="rgba(255,255,255,0.5)" stroke-width="0.75" />
<line x1="275.50" y1="372.83" x2="329.02" y2="372.83" stroke="rgba(255,255,255,0.5)" stroke-width="0.75" />
<rect x="275.50" y="185.40" width="53.52" height="196.35" fill="none" stroke="#444" stroke-width="1.1" />
<text x="332.20" y="192.21" font-size="6.5" text-anchor="start" fill="#333" stroke="#333" stroke-width="0.1" textLength="16.8" lengthAdjust="spacingAndGlyphs" >KIF5B</text>
<text x="332.20" y="201.14" font-size="6.5" text-anchor="start" fill="#333" stroke="#333" stroke-width="0.1" textLength="16.8" lengthAdjust="spacingAndGlyphs" >KIF3A</text>
<text x="332.20" y="210.06" font-size="6.5" text-anchor="start" fill="#333" stroke="#333" stroke-width="0.1" textLength="16.8" lengthAdjust="spacingAndGlyphs" >KIF1B</text>
<text x="332.20" y="218.99" font-size="6.5" text-anchor="start" fill="#333" stroke="#333" stroke-width="0.1" textLength="20.16" lengthAdjust="spacingAndGlyphs" >KIF13A</text>
<text x="332.20" y="227.91" font-size="6.5" text-anchor="start" fill="#333" stroke="#333" stroke-width="0.1" textLength="16.13" lengthAdjust="spacingAndGlyphs" >KIF14</text>
<text x="332.20" y="236.84" font-size="6.5" text-anchor="start" fill="#333" stroke="#333" stroke-width="0.1" textLength="20.16" lengthAdjust="spacingAndGlyphs" >KIF16B</text>
<text x="332.20" y="245.76" font-size="6.5" text-anchor="start" fill="#333" stroke="#333" stroke-width="0.1" textLength="20.16" lengthAdjust="spacingAndGlyphs" >KIF21A</text>
<text x="332.20" y="254.69" font-size="6.5" text-anchor="start" fill="#333" stroke="#333" stroke-width="0.1" textLength="16.8" lengthAdjust="spacingAndGlyphs" >KIF4A</text>
<text x="332.20" y="263.61" font-size="6.5" text-anchor="start" fill="#333" stroke="#333" stroke-width="0.1" textLength="12.77" lengthAdjust="spacingAndGlyphs" >KIF7</text>
<text x="332.20" y="272.54" font-size="6.5" text-anchor="start" fill="#333" stroke="#333" stroke-width="0.1" textLength="15.68" lengthAdjust="spacingAndGlyphs" >KIF11</text>
<text x="332.20" y="281.46" font-size="6.5" text-anchor="start" fill="#333" stroke="#333" stroke-width="0.1" textLength="20.16" lengthAdjust="spacingAndGlyphs" >KIF20A</text>
<text x="332.20" y="290.39" font-size="6.5" text-anchor="start" fill="#333" stroke="#333" stroke-width="0.1" textLength="20.16" lengthAdjust="spacingAndGlyphs" >KIF20B</text>
<text x="332.20" y="299.31" font-size="6.5" text-anchor="start" fill="#333" stroke="#333" stroke-width="0.1" textLength="16.13" lengthAdjust="spacingAndGlyphs" >KIF23</text>
<text x="332.20" y="308.24" font-size="6.5" text-anchor="start" fill="#333" stroke="#333" stroke-width="0.1" textLength="20.16" lengthAdjust="spacingAndGlyphs" >KIF18B</text>
<text x="332.20" y="317.16" font-size="6.5" text-anchor="start" fill="#333" stroke="#333" stroke-width="0.1" textLength="16.13" lengthAdjust="spacingAndGlyphs" >KIF22</text>
<text x="332.20" y="326.09" font-size="6.5" text-anchor="start" fill="#333" stroke="#333" stroke-width="0.1" textLength="20.16" lengthAdjust="spacingAndGlyphs" >KIF26A</text>
<text x="332.20" y="335.01" font-size="6.5" text-anchor="start" fill="#333" stroke="#333" stroke-width="0.1" textLength="16.13" lengthAdjust="spacingAndGlyphs" >KIF15</text>
<text x="332.20" y="343.94" font-size="6.5" text-anchor="start" fill="#333" stroke="#333" stroke-width="0.1" textLength="17.13" lengthAdjust="spacingAndGlyphs" >KIF2C</text>
<text x="332.20" y="352.86" font-size="6.5" text-anchor="start" fill="#333" stroke="#333" stroke-width="0.1" textLength="17.13" lengthAdjust="spacingAndGlyphs" >KIFC1</text>
<text x="332.20" y="361.79" font-size="6.5" text-anchor="start" fill="#333" stroke="#333" stroke-width="0.1" textLength="17.13" lengthAdjust="spacingAndGlyphs" >KIFC3</text>
<text x="332.20" y="370.71" font-size="6.5" text-anchor="start" fill="#333" stroke="#333" stroke-width="0.1" textLength="15.12" lengthAdjust="spacingAndGlyphs" >KLC4</text>
<text x="332.20" y="379.64" font-size="6.5" text-anchor="start" fill="#333" stroke="#333" stroke-width="0.1" textLength="15.12" lengthAdjust="spacingAndGlyphs" >KLC2</text>
<rect x="275.6" y="385.2" width="57.9" height="8.3" fill="url(#cbh)" stroke="#2a2a2a" stroke-width="1"/>
<line x1="307.90" y1="385.40" x2="307.90" y2="386.80" stroke="#222" stroke-width="0.7" />
<line x1="307.90" y1="391.90" x2="307.90" y2="393.30" stroke="#222" stroke-width="0.7" />
<text x="290.70" y="402.20" font-size="6.6" text-anchor="middle" fill="#333" stroke="#333" stroke-width="0.1" textLength="6.4" lengthAdjust="spacingAndGlyphs" >−2</text>
<text x="307.90" y="402.20" font-size="6.6" text-anchor="middle" fill="#333" stroke="#333" stroke-width="0.1" textLength="3.3" lengthAdjust="spacingAndGlyphs" >0</text>
<text x="324.20" y="402.20" font-size="6.6" text-anchor="middle" fill="#333" stroke="#333" stroke-width="0.1" textLength="3.4" lengthAdjust="spacingAndGlyphs" >2</text>
<text x="304.30" y="413.40" font-size="7.8" text-anchor="middle" fill="#444" stroke="#444" stroke-width="0.1" textLength="18.9" lengthAdjust="spacingAndGlyphs" >z-score</text>
<text transform="translate(290.00,181.40) rotate(-45)" x="0" y="0" font-size="6.6" text-anchor="start" fill="#383838" stroke="#383838" stroke-width="0.1" textLength="8.8" lengthAdjust="spacingAndGlyphs" >WT</text>
<g transform="translate(316.70,181.40) rotate(-45)"><text x="0" y="0" font-size="6.6" fill="#383838" stroke="#383838" stroke-width="0.1" textLength="12.5" lengthAdjust="spacingAndGlyphs">KLF1</text><text x="13.50" y="-2.60" font-size="3.8" fill="#383838" stroke="#383838" stroke-width="0.06" textLength="14.5" lengthAdjust="spacingAndGlyphs">+/E325K</text></g>
<rect x="386.60" y="185.40" width="9.08" height="8.92" fill="#a8d0ec" stroke="none" stroke-width="0" />
<rect x="395.63" y="185.40" width="9.08" height="8.92" fill="#c0dcf0" stroke="none" stroke-width="0" />
<rect x="404.66" y="185.40" width="9.08" height="8.92" fill="#b0d4ec" stroke="none" stroke-width="0" />
<rect x="413.69" y="185.40" width="9.08" height="8.92" fill="#f4aaae" stroke="none" stroke-width="0" />
<rect x="422.72" y="185.40" width="9.08" height="8.92" fill="#f8c4c8" stroke="none" stroke-width="0" />
<rect x="431.75" y="185.40" width="9.08" height="8.92" fill="#f09498" stroke="none" stroke-width="0" />
<rect x="386.60" y="194.27" width="9.08" height="8.92" fill="#8cc0e4" stroke="none" stroke-width="0" />
<rect x="395.63" y="194.27" width="9.08" height="8.92" fill="#9cc8e8" stroke="none" stroke-width="0" />
<rect x="404.66" y="194.27" width="9.08" height="8.92" fill="#98c6e6" stroke="none" stroke-width="0" />
<rect x="413.69" y="194.27" width="9.08" height="8.92" fill="#ee8a8e" stroke="none" stroke-width="0" />
<rect x="422.72" y="194.27" width="9.08" height="8.92" fill="#e66870" stroke="none" stroke-width="0" />
<rect x="431.75" y="194.27" width="9.08" height="8.92" fill="#ee9094" stroke="none" stroke-width="0" />
<rect x="386.60" y="203.14" width="9.08" height="8.92" fill="#2a8ccc" stroke="none" stroke-width="0" />
<rect x="395.63" y="203.14" width="9.08" height="8.92" fill="#2e8ecc" stroke="none" stroke-width="0" />
<rect x="404.66" y="203.14" width="9.08" height="8.92" fill="#3090cc" stroke="none" stroke-width="0" />
<rect x="413.69" y="203.14" width="9.08" height="8.92" fill="#f09c9e" stroke="none" stroke-width="0" />
<rect x="422.72" y="203.14" width="9.08" height="8.92" fill="#f2a6a8" stroke="none" stroke-width="0" />
<rect x="431.75" y="203.14" width="9.08" height="8.92" fill="#f09a9c" stroke="none" stroke-width="0" />
<rect x="386.60" y="212.01" width="9.08" height="8.92" fill="#eef4fa" stroke="none" stroke-width="0" />
<rect x="395.63" y="212.01" width="9.08" height="8.92" fill="#f4f6fa" stroke="none" stroke-width="0" />
<rect x="404.66" y="212.01" width="9.08" height="8.92" fill="#dce8f4" stroke="none" stroke-width="0" />
<rect x="413.69" y="212.01" width="9.08" height="8.92" fill="#e65458" stroke="none" stroke-width="0" />
<rect x="422.72" y="212.01" width="9.08" height="8.92" fill="#ea6468" stroke="none" stroke-width="0" />
<rect x="431.75" y="212.01" width="9.08" height="8.92" fill="#ea7074" stroke="none" stroke-width="0" />
<rect x="386.60" y="220.88" width="9.08" height="8.92" fill="#6cb0de" stroke="none" stroke-width="0" />
<rect x="395.63" y="220.88" width="9.08" height="8.92" fill="#8cc0e4" stroke="none" stroke-width="0" />
<rect x="404.66" y="220.88" width="9.08" height="8.92" fill="#70b2de" stroke="none" stroke-width="0" />
<rect x="413.69" y="220.88" width="9.08" height="8.92" fill="#ee8e92" stroke="none" stroke-width="0" />
<rect x="422.72" y="220.88" width="9.08" height="8.92" fill="#ec8a8e" stroke="none" stroke-width="0" />
<rect x="431.75" y="220.88" width="9.08" height="8.92" fill="#f09ea2" stroke="none" stroke-width="0" />
<rect x="386.60" y="229.75" width="9.08" height="8.92" fill="#a6cee8" stroke="none" stroke-width="0" />
<rect x="395.63" y="229.75" width="9.08" height="8.92" fill="#7ab8e0" stroke="none" stroke-width="0" />
<rect x="404.66" y="229.75" width="9.08" height="8.92" fill="#a6cee8" stroke="none" stroke-width="0" />
<rect x="413.69" y="229.75" width="9.08" height="8.92" fill="#e44646" stroke="none" stroke-width="0" />
<rect x="422.72" y="229.75" width="9.08" height="8.92" fill="#e03434" stroke="none" stroke-width="0" />
<rect x="431.75" y="229.75" width="9.08" height="8.92" fill="#e44a4a" stroke="none" stroke-width="0" />
<rect x="386.60" y="238.62" width="9.08" height="8.92" fill="#9ccae8" stroke="none" stroke-width="0" />
<rect x="395.63" y="238.62" width="9.08" height="8.92" fill="#f8f8f8" stroke="none" stroke-width="0" />
<rect x="404.66" y="238.62" width="9.08" height="8.92" fill="#f8f0f0" stroke="none" stroke-width="0" />
<rect x="413.69" y="238.62" width="9.08" height="8.92" fill="#3a98d4" stroke="none" stroke-width="0" />
<rect x="422.72" y="238.62" width="9.08" height="8.92" fill="#68b0dc" stroke="none" stroke-width="0" />
<rect x="431.75" y="238.62" width="9.08" height="8.92" fill="#5eaad8" stroke="none" stroke-width="0" />
<rect x="386.60" y="247.49" width="9.08" height="8.92" fill="#8cc0e4" stroke="none" stroke-width="0" />
<rect x="395.63" y="247.49" width="9.08" height="8.92" fill="#a0cce8" stroke="none" stroke-width="0" />
<rect x="404.66" y="247.49" width="9.08" height="8.92" fill="#90c4e6" stroke="none" stroke-width="0" />
<rect x="413.69" y="247.49" width="9.08" height="8.92" fill="#ec8488" stroke="none" stroke-width="0" />
<rect x="422.72" y="247.49" width="9.08" height="8.92" fill="#e66a70" stroke="none" stroke-width="0" />
<rect x="431.75" y="247.49" width="9.08" height="8.92" fill="#f09ca0" stroke="none" stroke-width="0" />
<rect x="386.60" y="256.36" width="9.08" height="8.92" fill="#a4cce8" stroke="none" stroke-width="0" />
<rect x="395.63" y="256.36" width="9.08" height="8.92" fill="#9cc8e8" stroke="none" stroke-width="0" />
<rect x="404.66" y="256.36" width="9.08" height="8.92" fill="#8cc0e4" stroke="none" stroke-width="0" />
<rect x="413.69" y="256.36" width="9.08" height="8.92" fill="#ee9094" stroke="none" stroke-width="0" />
<rect x="422.72" y="256.36" width="9.08" height="8.92" fill="#e87478" stroke="none" stroke-width="0" />
<rect x="431.75" y="256.36" width="9.08" height="8.92" fill="#f0a0a4" stroke="none" stroke-width="0" />
<line x1="395.63" y1="185.40" x2="395.63" y2="265.23" stroke="rgba(255,255,255,0.5)" stroke-width="0.75" />
<line x1="404.66" y1="185.40" x2="404.66" y2="265.23" stroke="rgba(255,255,255,0.5)" stroke-width="0.75" />
<line x1="413.69" y1="185.40" x2="413.69" y2="265.23" stroke="rgba(255,255,255,0.5)" stroke-width="0.75" />
<line x1="422.72" y1="185.40" x2="422.72" y2="265.23" stroke="rgba(255,255,255,0.5)" stroke-width="0.75" />
<line x1="431.75" y1="185.40" x2="431.75" y2="265.23" stroke="rgba(255,255,255,0.5)" stroke-width="0.75" />
<line x1="386.60" y1="194.27" x2="440.78" y2="194.27" stroke="rgba(255,255,255,0.5)" stroke-width="0.75" />
<line x1="386.60" y1="203.14" x2="440.78" y2="203.14" stroke="rgba(255,255,255,0.5)" stroke-width="0.75" />
<line x1="386.60" y1="212.01" x2="440.78" y2="212.01" stroke="rgba(255,255,255,0.5)" stroke-width="0.75" />
<line x1="386.60" y1="220.88" x2="440.78" y2="220.88" stroke="rgba(255,255,255,0.5)" stroke-width="0.75" />
<line x1="386.60" y1="229.75" x2="440.78" y2="229.75" stroke="rgba(255,255,255,0.5)" stroke-width="0.75" />
<line x1="386.60" y1="238.62" x2="440.78" y2="238.62" stroke="rgba(255,255,255,0.5)" stroke-width="0.75" />
<line x1="386.60" y1="247.49" x2="440.78" y2="247.49" stroke="rgba(255,255,255,0.5)" stroke-width="0.75" />
<line x1="386.60" y1="256.36" x2="440.78" y2="256.36" stroke="rgba(255,255,255,0.5)" stroke-width="0.75" />
<rect x="386.60" y="185.40" width="54.18" height="79.83" fill="none" stroke="#444" stroke-width="1.1" />
<text x="443.40" y="192.19" font-size="6.5" text-anchor="start" fill="#333" stroke="#333" stroke-width="0.1" textLength="21.15" lengthAdjust="spacingAndGlyphs" >TMED1</text>
<text x="443.40" y="201.06" font-size="6.5" text-anchor="start" fill="#333" stroke="#333" stroke-width="0.1" textLength="21.15" lengthAdjust="spacingAndGlyphs" >TMED2</text>
<text x="443.40" y="209.93" font-size="6.5" text-anchor="start" fill="#333" stroke="#333" stroke-width="0.1" textLength="21.15" lengthAdjust="spacingAndGlyphs" >TMED3</text>
<text x="443.40" y="218.79" font-size="6.5" text-anchor="start" fill="#333" stroke="#333" stroke-width="0.1" textLength="21.15" lengthAdjust="spacingAndGlyphs" >TMED4</text>
<text x="443.40" y="227.66" font-size="6.5" text-anchor="start" fill="#333" stroke="#333" stroke-width="0.1" textLength="21.15" lengthAdjust="spacingAndGlyphs" >TMED5</text>
<text x="443.40" y="236.53" font-size="6.5" text-anchor="start" fill="#333" stroke="#333" stroke-width="0.1" textLength="21.15" lengthAdjust="spacingAndGlyphs" >TMED7</text>
<text x="443.40" y="245.41" font-size="6.5" text-anchor="start" fill="#333" stroke="#333" stroke-width="0.1" textLength="21.15" lengthAdjust="spacingAndGlyphs" >TMED8</text>
<text x="443.40" y="254.28" font-size="6.5" text-anchor="start" fill="#333" stroke="#333" stroke-width="0.1" textLength="21.15" lengthAdjust="spacingAndGlyphs" >TMED9</text>
<text x="443.40" y="263.15" font-size="6.5" text-anchor="start" fill="#333" stroke="#333" stroke-width="0.1" textLength="24.62" lengthAdjust="spacingAndGlyphs" >TMED10</text>
<rect x="386.4" y="269.0" width="58.0" height="8.3" fill="url(#cb)" stroke="#2a2a2a" stroke-width="1"/>
<line x1="415.40" y1="269.20" x2="415.40" y2="270.60" stroke="#222" stroke-width="0.7" />
<line x1="415.40" y1="275.70" x2="415.40" y2="277.10" stroke="#222" stroke-width="0.7" />
<text x="385.80" y="285.80" font-size="6.6" text-anchor="middle" fill="#333" stroke="#333" stroke-width="0.1" textLength="6.4" lengthAdjust="spacingAndGlyphs" >−2</text>
<text x="415.40" y="285.80" font-size="6.6" text-anchor="middle" fill="#333" stroke="#333" stroke-width="0.1" textLength="3.3" lengthAdjust="spacingAndGlyphs" >0</text>
<text x="444.20" y="285.80" font-size="6.6" text-anchor="middle" fill="#333" stroke="#333" stroke-width="0.1" textLength="3.4" lengthAdjust="spacingAndGlyphs" >2</text>
<text x="415.40" y="297.30" font-size="7.8" text-anchor="middle" fill="#444" stroke="#444" stroke-width="0.1" textLength="18.9" lengthAdjust="spacingAndGlyphs" >z-score</text>
<text transform="translate(400.90,181.40) rotate(-45)" x="0" y="0" font-size="6.6" text-anchor="start" fill="#383838" stroke="#383838" stroke-width="0.1" textLength="8.8" lengthAdjust="spacingAndGlyphs" >WT</text>
<g transform="translate(427.60,181.40) rotate(-45)"><text x="0" y="0" font-size="6.6" fill="#383838" stroke="#383838" stroke-width="0.1" textLength="12.5" lengthAdjust="spacingAndGlyphs">KLF1</text><text x="13.50" y="-2.60" font-size="3.8" fill="#383838" stroke="#383838" stroke-width="0.06" textLength="14.5" lengthAdjust="spacingAndGlyphs">+/E325K</text></g>
<text transform="translate(398.00,342.60) rotate(-45)" x="0" y="0" font-size="6.6" text-anchor="start" fill="#383838" stroke="#383838" stroke-width="0.1" textLength="10.4" lengthAdjust="spacingAndGlyphs" >WT</text>
<g transform="translate(417.80,342.60) rotate(-45)"><text x="0" y="0" font-size="6.6" fill="#383838" stroke="#383838" stroke-width="0.1" textLength="14.0" lengthAdjust="spacingAndGlyphs">KLF1</text><text x="15.00" y="-2.60" font-size="3.8" fill="#383838" stroke="#383838" stroke-width="0.06" textLength="16.0" lengthAdjust="spacingAndGlyphs">+/E325K</text></g>
<g transform="translate(441.40,342.60) rotate(-45)"><text x="0" y="0" font-size="6.6" fill="#383838" stroke="#383838" stroke-width="0.1" textLength="14.0" lengthAdjust="spacingAndGlyphs">KLF1</text><text x="15.00" y="-2.60" font-size="3.8" fill="#383838" stroke="#383838" stroke-width="0.06" textLength="4.2" lengthAdjust="spacingAndGlyphs">+/−</text></g>
<rect x="386.50" y="347.90" width="64.90" height="14.70" fill="#cfcfcf" stroke="#2a2a2a" stroke-width="1.0" />
<rect x="386.50" y="365.10" width="64.90" height="15.20" fill="#e6e6e6" stroke="#2a2a2a" stroke-width="1.0" />
<text x="454.70" y="358.40" font-size="6.8" text-anchor="start" fill="#383838" stroke="#383838" stroke-width="0.1" textLength="23.0" lengthAdjust="spacingAndGlyphs" >TMED10</text>
<text x="454.70" y="375.00" font-size="6.8" text-anchor="start" fill="#383838" stroke="#383838" stroke-width="0.1" textLength="20.2" lengthAdjust="spacingAndGlyphs" >β-actin</text>
<rect x="390.65" y="356.20" width="15.50" height="2.00" rx="1.00" fill="#1a1a1a" opacity="0.255" filter="url(#b1)"/>
<rect x="413.05" y="355.30" width="14.50" height="2.40" rx="1.20" fill="#1a1a1a" opacity="0.637" filter="url(#b1)"/>
<rect x="415.20" y="360.30" width="4.20" height="1.60" rx="0.80" fill="#1a1a1a" opacity="0.468" filter="url(#b1)"/>
<rect x="434.45" y="356.00" width="15.50" height="2.00" rx="1.00" fill="#1a1a1a" opacity="0.255" filter="url(#b1)"/>
<rect x="389.70" y="372.35" width="17.00" height="1.90" rx="0.95" fill="#1a1a1a" opacity="0.612" filter="url(#b1)"/>
<rect x="411.10" y="372.35" width="17.00" height="1.90" rx="0.95" fill="#1a1a1a" opacity="0.612" filter="url(#b1)"/>
<rect x="432.70" y="372.15" width="17.00" height="1.90" rx="0.95" fill="#1a1a1a" opacity="0.612" filter="url(#b1)"/>
<rect x="0.5" y="0.5" width="519" height="456" fill="none" stroke="#555" stroke-width="1"/>
</svg></body></html>
